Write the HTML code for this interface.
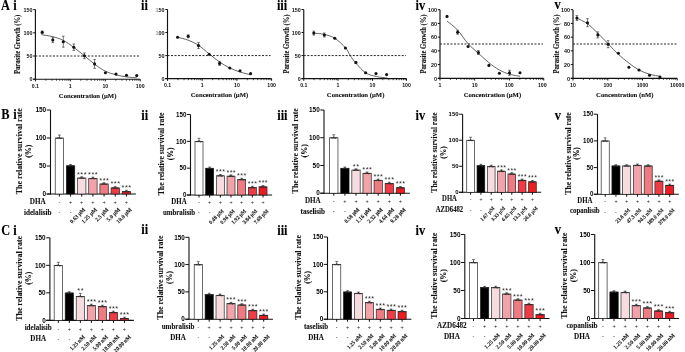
<!DOCTYPE html>
<html><head><meta charset="utf-8"><style>
html,body{margin:0;padding:0;background:#fff;width:685px;height:352px;overflow:hidden;font-family:"Liberation Sans", sans-serif;}
text.s{stroke:#111;stroke-width:0.1px;}
svg{display:block;filter:blur(0.25px);}
</style></head><body>
<svg width="685" height="352" viewBox="0 0 685 352">
<rect width="685" height="352" fill="#ffffff"/>
<line x1="35.40" y1="9.60" x2="35.40" y2="79.70" stroke="#111" stroke-width="1.15" />
<line x1="33.20" y1="79.20" x2="140.20" y2="79.20" stroke="#111" stroke-width="1.15" />
<line x1="33.20" y1="79.20" x2="35.40" y2="79.20" stroke="#111" stroke-width="1.0" />
<text x="32.40" y="81.40" font-family='"Liberation Sans", sans-serif' font-weight="bold" font-size="5.40" text-anchor="end" fill="#111" >0</text>
<line x1="33.20" y1="56.00" x2="35.40" y2="56.00" stroke="#111" stroke-width="1.0" />
<text x="32.40" y="58.20" font-family='"Liberation Sans", sans-serif' font-weight="bold" font-size="5.40" text-anchor="end" fill="#111" >50</text>
<line x1="33.20" y1="32.80" x2="35.40" y2="32.80" stroke="#111" stroke-width="1.0" />
<text x="32.40" y="35.00" font-family='"Liberation Sans", sans-serif' font-weight="bold" font-size="5.40" text-anchor="end" fill="#111" >100</text>
<line x1="33.20" y1="9.60" x2="35.40" y2="9.60" stroke="#111" stroke-width="1.0" />
<text x="32.40" y="11.80" font-family='"Liberation Sans", sans-serif' font-weight="bold" font-size="5.40" text-anchor="end" fill="#111" >150</text>
<line x1="35.40" y1="79.20" x2="35.40" y2="81.40" stroke="#111" stroke-width="1.0" />
<text x="35.40" y="88.00" font-family='"Liberation Sans", sans-serif' font-weight="bold" font-size="5.20" text-anchor="middle" fill="#111" >0.1</text>
<line x1="45.92" y1="79.20" x2="45.92" y2="80.80" stroke="#111" stroke-width="0.75" />
<line x1="52.07" y1="79.20" x2="52.07" y2="80.80" stroke="#111" stroke-width="0.75" />
<line x1="56.43" y1="79.20" x2="56.43" y2="80.80" stroke="#111" stroke-width="0.75" />
<line x1="59.82" y1="79.20" x2="59.82" y2="80.80" stroke="#111" stroke-width="0.75" />
<line x1="62.58" y1="79.20" x2="62.58" y2="80.80" stroke="#111" stroke-width="0.75" />
<line x1="64.92" y1="79.20" x2="64.92" y2="80.80" stroke="#111" stroke-width="0.75" />
<line x1="66.95" y1="79.20" x2="66.95" y2="80.80" stroke="#111" stroke-width="0.75" />
<line x1="68.73" y1="79.20" x2="68.73" y2="80.80" stroke="#111" stroke-width="0.75" />
<line x1="70.30" y1="79.20" x2="70.30" y2="81.40" stroke="#111" stroke-width="1.0" />
<text x="70.30" y="88.00" font-family='"Liberation Sans", sans-serif' font-weight="bold" font-size="5.20" text-anchor="middle" fill="#111" >1</text>
<line x1="80.82" y1="79.20" x2="80.82" y2="80.80" stroke="#111" stroke-width="0.75" />
<line x1="86.97" y1="79.20" x2="86.97" y2="80.80" stroke="#111" stroke-width="0.75" />
<line x1="91.33" y1="79.20" x2="91.33" y2="80.80" stroke="#111" stroke-width="0.75" />
<line x1="94.72" y1="79.20" x2="94.72" y2="80.80" stroke="#111" stroke-width="0.75" />
<line x1="97.48" y1="79.20" x2="97.48" y2="80.80" stroke="#111" stroke-width="0.75" />
<line x1="99.82" y1="79.20" x2="99.82" y2="80.80" stroke="#111" stroke-width="0.75" />
<line x1="101.85" y1="79.20" x2="101.85" y2="80.80" stroke="#111" stroke-width="0.75" />
<line x1="103.63" y1="79.20" x2="103.63" y2="80.80" stroke="#111" stroke-width="0.75" />
<line x1="105.30" y1="79.20" x2="105.30" y2="81.40" stroke="#111" stroke-width="1.0" />
<text x="105.30" y="88.00" font-family='"Liberation Sans", sans-serif' font-weight="bold" font-size="5.20" text-anchor="middle" fill="#111" >10</text>
<line x1="115.82" y1="79.20" x2="115.82" y2="80.80" stroke="#111" stroke-width="0.75" />
<line x1="121.97" y1="79.20" x2="121.97" y2="80.80" stroke="#111" stroke-width="0.75" />
<line x1="126.33" y1="79.20" x2="126.33" y2="80.80" stroke="#111" stroke-width="0.75" />
<line x1="129.72" y1="79.20" x2="129.72" y2="80.80" stroke="#111" stroke-width="0.75" />
<line x1="132.48" y1="79.20" x2="132.48" y2="80.80" stroke="#111" stroke-width="0.75" />
<line x1="134.82" y1="79.20" x2="134.82" y2="80.80" stroke="#111" stroke-width="0.75" />
<line x1="136.85" y1="79.20" x2="136.85" y2="80.80" stroke="#111" stroke-width="0.75" />
<line x1="138.63" y1="79.20" x2="138.63" y2="80.80" stroke="#111" stroke-width="0.75" />
<line x1="140.20" y1="79.20" x2="140.20" y2="81.40" stroke="#111" stroke-width="1.0" />
<text x="140.20" y="88.00" font-family='"Liberation Sans", sans-serif' font-weight="bold" font-size="5.20" text-anchor="middle" fill="#111" >100</text>
<line x1="35.40" y1="56.00" x2="140.50" y2="56.00" stroke="#1a1a1a" stroke-width="0.95" stroke-dasharray="2.0 1.5"/>
<text class="s" transform="translate(87.60,97.70) scale(0.9434,1)" font-family='"Liberation Serif", serif' font-weight="bold" font-size="7.10" text-anchor="middle" fill="#111" >Concentration (µM)</text>
<g transform="translate(20.20,44.40) rotate(-90)">
<text class="s" transform="translate(0.00,0.00) scale(0.9091,1)" font-family='"Liberation Serif", serif' font-weight="bold" font-size="7.26" text-anchor="middle" fill="#111" >Parasite Growth (%)</text>
</g>
<path d="M41.40,34.70 C43.23,35.02 48.75,35.65 52.40,36.60 C56.05,37.55 59.73,38.60 63.30,40.40 C66.87,42.20 70.28,44.83 73.80,47.40 C77.32,49.97 80.93,53.00 84.40,55.80 C87.87,58.60 91.10,61.63 94.60,64.20 C98.10,66.77 101.83,69.43 105.40,71.20 C108.97,72.97 112.48,73.85 116.00,74.80 C119.52,75.75 123.05,76.40 126.50,76.90 C129.95,77.40 135.00,77.65 136.70,77.80" fill="none" stroke="#222" stroke-width="0.7"/>
<line x1="42.20" y1="31.00" x2="42.20" y2="33.60" stroke="#222" stroke-width="0.6" />
<line x1="40.90" y1="31.00" x2="43.50" y2="31.00" stroke="#222" stroke-width="0.6" />
<line x1="40.90" y1="33.60" x2="43.50" y2="33.60" stroke="#222" stroke-width="0.6" />
<circle cx="42.20" cy="32.30" r="1.55" fill="#111"/>
<line x1="52.80" y1="37.20" x2="52.80" y2="42.60" stroke="#222" stroke-width="0.6" />
<line x1="51.50" y1="37.20" x2="54.10" y2="37.20" stroke="#222" stroke-width="0.6" />
<line x1="51.50" y1="42.60" x2="54.10" y2="42.60" stroke="#222" stroke-width="0.6" />
<circle cx="52.80" cy="39.90" r="1.55" fill="#111"/>
<line x1="63.30" y1="36.20" x2="63.30" y2="47.20" stroke="#222" stroke-width="0.6" />
<line x1="62.00" y1="36.20" x2="64.60" y2="36.20" stroke="#222" stroke-width="0.6" />
<line x1="62.00" y1="47.20" x2="64.60" y2="47.20" stroke="#222" stroke-width="0.6" />
<circle cx="63.30" cy="41.70" r="1.55" fill="#111"/>
<line x1="73.80" y1="44.00" x2="73.80" y2="50.40" stroke="#222" stroke-width="0.6" />
<line x1="72.50" y1="44.00" x2="75.10" y2="44.00" stroke="#222" stroke-width="0.6" />
<line x1="72.50" y1="50.40" x2="75.10" y2="50.40" stroke="#222" stroke-width="0.6" />
<circle cx="73.80" cy="47.20" r="1.55" fill="#111"/>
<line x1="84.40" y1="52.90" x2="84.40" y2="58.70" stroke="#222" stroke-width="0.6" />
<line x1="83.10" y1="52.90" x2="85.70" y2="52.90" stroke="#222" stroke-width="0.6" />
<line x1="83.10" y1="58.70" x2="85.70" y2="58.70" stroke="#222" stroke-width="0.6" />
<circle cx="84.40" cy="55.80" r="1.55" fill="#111"/>
<line x1="94.60" y1="59.40" x2="94.60" y2="68.40" stroke="#222" stroke-width="0.6" />
<line x1="93.30" y1="59.40" x2="95.90" y2="59.40" stroke="#222" stroke-width="0.6" />
<line x1="93.30" y1="68.40" x2="95.90" y2="68.40" stroke="#222" stroke-width="0.6" />
<circle cx="94.60" cy="63.90" r="1.55" fill="#111"/>
<circle cx="105.40" cy="72.80" r="1.55" fill="#111"/>
<circle cx="116.00" cy="74.10" r="1.55" fill="#111"/>
<circle cx="126.50" cy="75.20" r="1.55" fill="#111"/>
<circle cx="136.70" cy="75.60" r="1.55" fill="#111"/>
<line x1="167.50" y1="9.50" x2="167.50" y2="79.10" stroke="#111" stroke-width="1.15" />
<line x1="165.30" y1="78.60" x2="271.60" y2="78.60" stroke="#111" stroke-width="1.15" />
<line x1="165.30" y1="78.60" x2="167.50" y2="78.60" stroke="#111" stroke-width="1.0" />
<text x="164.50" y="80.80" font-family='"Liberation Sans", sans-serif' font-weight="bold" font-size="5.40" text-anchor="end" fill="#111" >0</text>
<line x1="165.30" y1="55.57" x2="167.50" y2="55.57" stroke="#111" stroke-width="1.0" />
<text x="164.50" y="57.77" font-family='"Liberation Sans", sans-serif' font-weight="bold" font-size="5.40" text-anchor="end" fill="#111" >50</text>
<line x1="165.30" y1="32.53" x2="167.50" y2="32.53" stroke="#111" stroke-width="1.0" />
<text x="164.50" y="34.73" font-family='"Liberation Sans", sans-serif' font-weight="bold" font-size="5.40" text-anchor="end" fill="#111" >100</text>
<line x1="165.30" y1="9.50" x2="167.50" y2="9.50" stroke="#111" stroke-width="1.0" />
<text x="164.50" y="11.70" font-family='"Liberation Sans", sans-serif' font-weight="bold" font-size="5.40" text-anchor="end" fill="#111" >150</text>
<line x1="167.50" y1="78.60" x2="167.50" y2="80.80" stroke="#111" stroke-width="1.0" />
<text x="167.50" y="87.40" font-family='"Liberation Sans", sans-serif' font-weight="bold" font-size="5.20" text-anchor="middle" fill="#111" >0.1</text>
<line x1="177.95" y1="78.60" x2="177.95" y2="80.20" stroke="#111" stroke-width="0.75" />
<line x1="184.06" y1="78.60" x2="184.06" y2="80.20" stroke="#111" stroke-width="0.75" />
<line x1="188.39" y1="78.60" x2="188.39" y2="80.20" stroke="#111" stroke-width="0.75" />
<line x1="191.75" y1="78.60" x2="191.75" y2="80.20" stroke="#111" stroke-width="0.75" />
<line x1="194.50" y1="78.60" x2="194.50" y2="80.20" stroke="#111" stroke-width="0.75" />
<line x1="196.82" y1="78.60" x2="196.82" y2="80.20" stroke="#111" stroke-width="0.75" />
<line x1="198.84" y1="78.60" x2="198.84" y2="80.20" stroke="#111" stroke-width="0.75" />
<line x1="200.61" y1="78.60" x2="200.61" y2="80.20" stroke="#111" stroke-width="0.75" />
<line x1="202.20" y1="78.60" x2="202.20" y2="80.80" stroke="#111" stroke-width="1.0" />
<text x="202.20" y="87.40" font-family='"Liberation Sans", sans-serif' font-weight="bold" font-size="5.20" text-anchor="middle" fill="#111" >1</text>
<line x1="212.65" y1="78.60" x2="212.65" y2="80.20" stroke="#111" stroke-width="0.75" />
<line x1="218.76" y1="78.60" x2="218.76" y2="80.20" stroke="#111" stroke-width="0.75" />
<line x1="223.09" y1="78.60" x2="223.09" y2="80.20" stroke="#111" stroke-width="0.75" />
<line x1="226.45" y1="78.60" x2="226.45" y2="80.20" stroke="#111" stroke-width="0.75" />
<line x1="229.20" y1="78.60" x2="229.20" y2="80.20" stroke="#111" stroke-width="0.75" />
<line x1="231.52" y1="78.60" x2="231.52" y2="80.20" stroke="#111" stroke-width="0.75" />
<line x1="233.54" y1="78.60" x2="233.54" y2="80.20" stroke="#111" stroke-width="0.75" />
<line x1="235.31" y1="78.60" x2="235.31" y2="80.20" stroke="#111" stroke-width="0.75" />
<line x1="236.90" y1="78.60" x2="236.90" y2="80.80" stroke="#111" stroke-width="1.0" />
<text x="236.90" y="87.40" font-family='"Liberation Sans", sans-serif' font-weight="bold" font-size="5.20" text-anchor="middle" fill="#111" >10</text>
<line x1="247.35" y1="78.60" x2="247.35" y2="80.20" stroke="#111" stroke-width="0.75" />
<line x1="253.46" y1="78.60" x2="253.46" y2="80.20" stroke="#111" stroke-width="0.75" />
<line x1="257.79" y1="78.60" x2="257.79" y2="80.20" stroke="#111" stroke-width="0.75" />
<line x1="261.15" y1="78.60" x2="261.15" y2="80.20" stroke="#111" stroke-width="0.75" />
<line x1="263.90" y1="78.60" x2="263.90" y2="80.20" stroke="#111" stroke-width="0.75" />
<line x1="266.22" y1="78.60" x2="266.22" y2="80.20" stroke="#111" stroke-width="0.75" />
<line x1="268.24" y1="78.60" x2="268.24" y2="80.20" stroke="#111" stroke-width="0.75" />
<line x1="270.01" y1="78.60" x2="270.01" y2="80.20" stroke="#111" stroke-width="0.75" />
<line x1="271.60" y1="78.60" x2="271.60" y2="80.80" stroke="#111" stroke-width="1.0" />
<text x="271.60" y="87.40" font-family='"Liberation Sans", sans-serif' font-weight="bold" font-size="5.20" text-anchor="middle" fill="#111" >100</text>
<line x1="167.50" y1="55.57" x2="270.50" y2="55.57" stroke="#1a1a1a" stroke-width="0.95" stroke-dasharray="2.0 1.5"/>
<text class="s" transform="translate(219.50,97.10) scale(0.9434,1)" font-family='"Liberation Serif", serif' font-weight="bold" font-size="7.10" text-anchor="middle" fill="#111" >Concentration (µM)</text>
<path d="M177.60,37.20 C179.37,37.70 184.72,38.85 188.20,40.20 C191.68,41.55 195.02,43.03 198.50,45.30 C201.98,47.57 205.58,51.02 209.10,53.80 C212.62,56.58 216.15,59.63 219.60,62.00 C223.05,64.37 226.40,66.33 229.80,68.00 C233.20,69.67 236.53,70.87 240.00,72.00 C243.47,73.13 248.83,74.33 250.60,74.80" fill="none" stroke="#222" stroke-width="0.7"/>
<circle cx="177.60" cy="37.20" r="1.55" fill="#111"/>
<line x1="188.20" y1="34.80" x2="188.20" y2="37.80" stroke="#222" stroke-width="0.6" />
<line x1="186.90" y1="34.80" x2="189.50" y2="34.80" stroke="#222" stroke-width="0.6" />
<line x1="186.90" y1="37.80" x2="189.50" y2="37.80" stroke="#222" stroke-width="0.6" />
<circle cx="188.20" cy="36.30" r="1.55" fill="#111"/>
<line x1="198.50" y1="42.60" x2="198.50" y2="48.60" stroke="#222" stroke-width="0.6" />
<line x1="197.20" y1="42.60" x2="199.80" y2="42.60" stroke="#222" stroke-width="0.6" />
<line x1="197.20" y1="48.60" x2="199.80" y2="48.60" stroke="#222" stroke-width="0.6" />
<circle cx="198.50" cy="45.60" r="1.55" fill="#111"/>
<circle cx="209.10" cy="54.20" r="1.55" fill="#111"/>
<line x1="219.60" y1="61.40" x2="219.60" y2="65.40" stroke="#222" stroke-width="0.6" />
<line x1="218.30" y1="61.40" x2="220.90" y2="61.40" stroke="#222" stroke-width="0.6" />
<line x1="218.30" y1="65.40" x2="220.90" y2="65.40" stroke="#222" stroke-width="0.6" />
<circle cx="219.60" cy="63.40" r="1.55" fill="#111"/>
<circle cx="229.80" cy="68.00" r="1.55" fill="#111"/>
<circle cx="240.00" cy="70.70" r="1.55" fill="#111"/>
<circle cx="250.60" cy="73.60" r="1.55" fill="#111"/>
<line x1="303.75" y1="9.50" x2="303.75" y2="79.10" stroke="#111" stroke-width="1.15" />
<line x1="301.55" y1="78.60" x2="406.50" y2="78.60" stroke="#111" stroke-width="1.15" />
<line x1="301.55" y1="78.60" x2="303.75" y2="78.60" stroke="#111" stroke-width="1.0" />
<text x="300.75" y="80.80" font-family='"Liberation Sans", sans-serif' font-weight="bold" font-size="5.40" text-anchor="end" fill="#111" >0</text>
<line x1="301.55" y1="55.57" x2="303.75" y2="55.57" stroke="#111" stroke-width="1.0" />
<text x="300.75" y="57.77" font-family='"Liberation Sans", sans-serif' font-weight="bold" font-size="5.40" text-anchor="end" fill="#111" >50</text>
<line x1="301.55" y1="32.53" x2="303.75" y2="32.53" stroke="#111" stroke-width="1.0" />
<text x="300.75" y="34.73" font-family='"Liberation Sans", sans-serif' font-weight="bold" font-size="5.40" text-anchor="end" fill="#111" >100</text>
<line x1="301.55" y1="9.50" x2="303.75" y2="9.50" stroke="#111" stroke-width="1.0" />
<text x="300.75" y="11.70" font-family='"Liberation Sans", sans-serif' font-weight="bold" font-size="5.40" text-anchor="end" fill="#111" >150</text>
<line x1="303.75" y1="78.60" x2="303.75" y2="80.80" stroke="#111" stroke-width="1.0" />
<text x="303.75" y="87.40" font-family='"Liberation Sans", sans-serif' font-weight="bold" font-size="5.20" text-anchor="middle" fill="#111" >0.1</text>
<line x1="314.06" y1="78.60" x2="314.06" y2="80.20" stroke="#111" stroke-width="0.75" />
<line x1="320.09" y1="78.60" x2="320.09" y2="80.20" stroke="#111" stroke-width="0.75" />
<line x1="324.37" y1="78.60" x2="324.37" y2="80.20" stroke="#111" stroke-width="0.75" />
<line x1="327.69" y1="78.60" x2="327.69" y2="80.20" stroke="#111" stroke-width="0.75" />
<line x1="330.40" y1="78.60" x2="330.40" y2="80.20" stroke="#111" stroke-width="0.75" />
<line x1="332.69" y1="78.60" x2="332.69" y2="80.20" stroke="#111" stroke-width="0.75" />
<line x1="334.68" y1="78.60" x2="334.68" y2="80.20" stroke="#111" stroke-width="0.75" />
<line x1="336.43" y1="78.60" x2="336.43" y2="80.20" stroke="#111" stroke-width="0.75" />
<line x1="338.00" y1="78.60" x2="338.00" y2="80.80" stroke="#111" stroke-width="1.0" />
<text x="338.00" y="87.40" font-family='"Liberation Sans", sans-serif' font-weight="bold" font-size="5.20" text-anchor="middle" fill="#111" >1</text>
<line x1="348.31" y1="78.60" x2="348.31" y2="80.20" stroke="#111" stroke-width="0.75" />
<line x1="354.34" y1="78.60" x2="354.34" y2="80.20" stroke="#111" stroke-width="0.75" />
<line x1="358.62" y1="78.60" x2="358.62" y2="80.20" stroke="#111" stroke-width="0.75" />
<line x1="361.94" y1="78.60" x2="361.94" y2="80.20" stroke="#111" stroke-width="0.75" />
<line x1="364.65" y1="78.60" x2="364.65" y2="80.20" stroke="#111" stroke-width="0.75" />
<line x1="366.94" y1="78.60" x2="366.94" y2="80.20" stroke="#111" stroke-width="0.75" />
<line x1="368.93" y1="78.60" x2="368.93" y2="80.20" stroke="#111" stroke-width="0.75" />
<line x1="370.68" y1="78.60" x2="370.68" y2="80.20" stroke="#111" stroke-width="0.75" />
<line x1="372.50" y1="78.60" x2="372.50" y2="80.80" stroke="#111" stroke-width="1.0" />
<text x="372.50" y="87.40" font-family='"Liberation Sans", sans-serif' font-weight="bold" font-size="5.20" text-anchor="middle" fill="#111" >10</text>
<line x1="382.81" y1="78.60" x2="382.81" y2="80.20" stroke="#111" stroke-width="0.75" />
<line x1="388.84" y1="78.60" x2="388.84" y2="80.20" stroke="#111" stroke-width="0.75" />
<line x1="393.12" y1="78.60" x2="393.12" y2="80.20" stroke="#111" stroke-width="0.75" />
<line x1="396.44" y1="78.60" x2="396.44" y2="80.20" stroke="#111" stroke-width="0.75" />
<line x1="399.15" y1="78.60" x2="399.15" y2="80.20" stroke="#111" stroke-width="0.75" />
<line x1="401.44" y1="78.60" x2="401.44" y2="80.20" stroke="#111" stroke-width="0.75" />
<line x1="403.43" y1="78.60" x2="403.43" y2="80.20" stroke="#111" stroke-width="0.75" />
<line x1="405.18" y1="78.60" x2="405.18" y2="80.20" stroke="#111" stroke-width="0.75" />
<line x1="406.50" y1="78.60" x2="406.50" y2="80.80" stroke="#111" stroke-width="1.0" />
<text x="406.50" y="87.40" font-family='"Liberation Sans", sans-serif' font-weight="bold" font-size="5.20" text-anchor="middle" fill="#111" >100</text>
<line x1="303.75" y1="55.57" x2="406.00" y2="55.57" stroke="#1a1a1a" stroke-width="0.95" stroke-dasharray="2.0 1.5"/>
<text class="s" transform="translate(355.60,97.10) scale(0.9434,1)" font-family='"Liberation Serif", serif' font-weight="bold" font-size="7.10" text-anchor="middle" fill="#111" >Concentration (µM)</text>
<g transform="translate(289.00,44.00) rotate(-90)">
<text class="s" transform="translate(0.00,0.00) scale(0.9091,1)" font-family='"Liberation Serif", serif' font-weight="bold" font-size="7.26" text-anchor="middle" fill="#111" >Parasite Growth (%)</text>
</g>
<path d="M313.80,33.10 C315.55,33.32 320.80,33.53 324.30,34.40 C327.80,35.27 331.28,36.08 334.80,38.30 C338.32,40.52 342.83,44.83 345.40,47.70 C347.97,50.57 348.45,52.93 350.20,55.50 C351.95,58.07 353.33,60.22 355.90,63.10 C358.47,65.98 362.22,70.57 365.60,72.80 C368.98,75.03 372.55,75.63 376.20,76.50 C379.85,77.37 385.62,77.75 387.50,78.00" fill="none" stroke="#222" stroke-width="0.7"/>
<line x1="313.80" y1="31.10" x2="313.80" y2="35.10" stroke="#222" stroke-width="0.6" />
<line x1="312.50" y1="31.10" x2="315.10" y2="31.10" stroke="#222" stroke-width="0.6" />
<line x1="312.50" y1="35.10" x2="315.10" y2="35.10" stroke="#222" stroke-width="0.6" />
<circle cx="313.80" cy="33.10" r="1.55" fill="#111"/>
<line x1="324.30" y1="33.00" x2="324.30" y2="37.00" stroke="#222" stroke-width="0.6" />
<line x1="323.00" y1="33.00" x2="325.60" y2="33.00" stroke="#222" stroke-width="0.6" />
<line x1="323.00" y1="37.00" x2="325.60" y2="37.00" stroke="#222" stroke-width="0.6" />
<circle cx="324.30" cy="35.00" r="1.55" fill="#111"/>
<circle cx="334.80" cy="38.30" r="1.55" fill="#111"/>
<circle cx="345.40" cy="48.00" r="1.55" fill="#111"/>
<line x1="355.90" y1="61.50" x2="355.90" y2="63.50" stroke="#222" stroke-width="0.6" />
<line x1="354.60" y1="61.50" x2="357.20" y2="61.50" stroke="#222" stroke-width="0.6" />
<line x1="354.60" y1="63.50" x2="357.20" y2="63.50" stroke="#222" stroke-width="0.6" />
<circle cx="355.90" cy="62.50" r="1.55" fill="#111"/>
<circle cx="365.60" cy="72.80" r="1.55" fill="#111"/>
<circle cx="376.00" cy="73.60" r="1.55" fill="#111"/>
<circle cx="386.60" cy="74.60" r="1.55" fill="#111"/>
<line x1="440.00" y1="9.70" x2="440.00" y2="78.80" stroke="#111" stroke-width="1.15" />
<line x1="437.80" y1="78.30" x2="543.75" y2="78.30" stroke="#111" stroke-width="1.15" />
<line x1="437.80" y1="78.30" x2="440.00" y2="78.30" stroke="#111" stroke-width="1.0" />
<text x="437.00" y="80.50" font-family='"Liberation Sans", sans-serif' font-weight="bold" font-size="5.40" text-anchor="end" fill="#111" >0</text>
<line x1="437.80" y1="64.58" x2="440.00" y2="64.58" stroke="#111" stroke-width="1.0" />
<text x="437.00" y="66.78" font-family='"Liberation Sans", sans-serif' font-weight="bold" font-size="5.40" text-anchor="end" fill="#111" >20</text>
<line x1="437.80" y1="50.86" x2="440.00" y2="50.86" stroke="#111" stroke-width="1.0" />
<text x="437.00" y="53.06" font-family='"Liberation Sans", sans-serif' font-weight="bold" font-size="5.40" text-anchor="end" fill="#111" >40</text>
<line x1="437.80" y1="37.14" x2="440.00" y2="37.14" stroke="#111" stroke-width="1.0" />
<text x="437.00" y="39.34" font-family='"Liberation Sans", sans-serif' font-weight="bold" font-size="5.40" text-anchor="end" fill="#111" >60</text>
<line x1="437.80" y1="23.42" x2="440.00" y2="23.42" stroke="#111" stroke-width="1.0" />
<text x="437.00" y="25.62" font-family='"Liberation Sans", sans-serif' font-weight="bold" font-size="5.40" text-anchor="end" fill="#111" >80</text>
<line x1="437.80" y1="9.70" x2="440.00" y2="9.70" stroke="#111" stroke-width="1.0" />
<text x="437.00" y="11.90" font-family='"Liberation Sans", sans-serif' font-weight="bold" font-size="5.40" text-anchor="end" fill="#111" >100</text>
<line x1="440.00" y1="78.30" x2="440.00" y2="80.50" stroke="#111" stroke-width="1.0" />
<text x="440.00" y="87.10" font-family='"Liberation Sans", sans-serif' font-weight="bold" font-size="5.20" text-anchor="middle" fill="#111" >1</text>
<line x1="450.41" y1="78.30" x2="450.41" y2="79.90" stroke="#111" stroke-width="0.75" />
<line x1="456.50" y1="78.30" x2="456.50" y2="79.90" stroke="#111" stroke-width="0.75" />
<line x1="460.82" y1="78.30" x2="460.82" y2="79.90" stroke="#111" stroke-width="0.75" />
<line x1="464.17" y1="78.30" x2="464.17" y2="79.90" stroke="#111" stroke-width="0.75" />
<line x1="466.91" y1="78.30" x2="466.91" y2="79.90" stroke="#111" stroke-width="0.75" />
<line x1="469.23" y1="78.30" x2="469.23" y2="79.90" stroke="#111" stroke-width="0.75" />
<line x1="471.23" y1="78.30" x2="471.23" y2="79.90" stroke="#111" stroke-width="0.75" />
<line x1="473.00" y1="78.30" x2="473.00" y2="79.90" stroke="#111" stroke-width="0.75" />
<line x1="474.70" y1="78.30" x2="474.70" y2="80.50" stroke="#111" stroke-width="1.0" />
<text x="474.70" y="87.10" font-family='"Liberation Sans", sans-serif' font-weight="bold" font-size="5.20" text-anchor="middle" fill="#111" >10</text>
<line x1="485.11" y1="78.30" x2="485.11" y2="79.90" stroke="#111" stroke-width="0.75" />
<line x1="491.20" y1="78.30" x2="491.20" y2="79.90" stroke="#111" stroke-width="0.75" />
<line x1="495.52" y1="78.30" x2="495.52" y2="79.90" stroke="#111" stroke-width="0.75" />
<line x1="498.87" y1="78.30" x2="498.87" y2="79.90" stroke="#111" stroke-width="0.75" />
<line x1="501.61" y1="78.30" x2="501.61" y2="79.90" stroke="#111" stroke-width="0.75" />
<line x1="503.93" y1="78.30" x2="503.93" y2="79.90" stroke="#111" stroke-width="0.75" />
<line x1="505.93" y1="78.30" x2="505.93" y2="79.90" stroke="#111" stroke-width="0.75" />
<line x1="507.70" y1="78.30" x2="507.70" y2="79.90" stroke="#111" stroke-width="0.75" />
<line x1="509.40" y1="78.30" x2="509.40" y2="80.50" stroke="#111" stroke-width="1.0" />
<text x="509.40" y="87.10" font-family='"Liberation Sans", sans-serif' font-weight="bold" font-size="5.20" text-anchor="middle" fill="#111" >100</text>
<line x1="519.81" y1="78.30" x2="519.81" y2="79.90" stroke="#111" stroke-width="0.75" />
<line x1="525.90" y1="78.30" x2="525.90" y2="79.90" stroke="#111" stroke-width="0.75" />
<line x1="530.22" y1="78.30" x2="530.22" y2="79.90" stroke="#111" stroke-width="0.75" />
<line x1="533.57" y1="78.30" x2="533.57" y2="79.90" stroke="#111" stroke-width="0.75" />
<line x1="536.31" y1="78.30" x2="536.31" y2="79.90" stroke="#111" stroke-width="0.75" />
<line x1="538.63" y1="78.30" x2="538.63" y2="79.90" stroke="#111" stroke-width="0.75" />
<line x1="540.63" y1="78.30" x2="540.63" y2="79.90" stroke="#111" stroke-width="0.75" />
<line x1="542.40" y1="78.30" x2="542.40" y2="79.90" stroke="#111" stroke-width="0.75" />
<line x1="543.75" y1="78.30" x2="543.75" y2="80.50" stroke="#111" stroke-width="1.0" />
<text x="543.75" y="87.10" font-family='"Liberation Sans", sans-serif' font-weight="bold" font-size="5.20" text-anchor="middle" fill="#111" >1000</text>
<rect x="547" y="81.3" width="7" height="7" fill="#fff"/>
<line x1="440.00" y1="44.00" x2="543.00" y2="44.00" stroke="#1a1a1a" stroke-width="0.95" stroke-dasharray="2.0 1.5"/>
<text class="s" transform="translate(492.40,96.80) scale(0.9434,1)" font-family='"Liberation Serif", serif' font-weight="bold" font-size="7.10" text-anchor="middle" fill="#111" >Concentration (µM)</text>
<g transform="translate(425.80,44.00) rotate(-90)">
<text class="s" transform="translate(0.00,0.00) scale(0.9091,1)" font-family='"Liberation Serif", serif' font-weight="bold" font-size="7.26" text-anchor="middle" fill="#111" >Parasite Growth (%)</text>
</g>
<path d="M447.00,21.00 C448.77,22.52 454.08,26.30 457.60,30.10 C461.12,33.90 464.63,39.95 468.10,43.80 C471.57,47.65 474.93,50.05 478.40,53.20 C481.87,56.35 485.40,59.90 488.90,62.70 C492.40,65.50 495.97,68.08 499.40,70.00 C502.83,71.92 506.07,73.15 509.50,74.20 C512.93,75.25 518.25,75.95 520.00,76.30" fill="none" stroke="#222" stroke-width="0.7"/>
<circle cx="447.00" cy="16.40" r="1.55" fill="#111"/>
<line x1="457.60" y1="30.20" x2="457.60" y2="34.20" stroke="#222" stroke-width="0.6" />
<line x1="456.30" y1="30.20" x2="458.90" y2="30.20" stroke="#222" stroke-width="0.6" />
<line x1="456.30" y1="34.20" x2="458.90" y2="34.20" stroke="#222" stroke-width="0.6" />
<circle cx="457.60" cy="32.20" r="1.55" fill="#111"/>
<circle cx="468.10" cy="46.50" r="1.55" fill="#111"/>
<line x1="478.40" y1="50.60" x2="478.40" y2="54.60" stroke="#222" stroke-width="0.6" />
<line x1="477.10" y1="50.60" x2="479.70" y2="50.60" stroke="#222" stroke-width="0.6" />
<line x1="477.10" y1="54.60" x2="479.70" y2="54.60" stroke="#222" stroke-width="0.6" />
<circle cx="478.40" cy="52.60" r="1.55" fill="#111"/>
<circle cx="488.90" cy="65.40" r="1.55" fill="#111"/>
<circle cx="499.40" cy="73.20" r="1.55" fill="#111"/>
<line x1="509.50" y1="70.30" x2="509.50" y2="75.30" stroke="#222" stroke-width="0.6" />
<line x1="508.20" y1="70.30" x2="510.80" y2="70.30" stroke="#222" stroke-width="0.6" />
<line x1="508.20" y1="75.30" x2="510.80" y2="75.30" stroke="#222" stroke-width="0.6" />
<circle cx="509.50" cy="72.80" r="1.55" fill="#111"/>
<circle cx="520.00" cy="72.80" r="1.55" fill="#111"/>
<line x1="573.00" y1="9.70" x2="573.00" y2="78.80" stroke="#111" stroke-width="1.15" />
<line x1="570.80" y1="78.30" x2="677.20" y2="78.30" stroke="#111" stroke-width="1.15" />
<line x1="570.80" y1="78.30" x2="573.00" y2="78.30" stroke="#111" stroke-width="1.0" />
<text x="570.00" y="80.50" font-family='"Liberation Sans", sans-serif' font-weight="bold" font-size="5.40" text-anchor="end" fill="#111" >0</text>
<line x1="570.80" y1="64.58" x2="573.00" y2="64.58" stroke="#111" stroke-width="1.0" />
<text x="570.00" y="66.78" font-family='"Liberation Sans", sans-serif' font-weight="bold" font-size="5.40" text-anchor="end" fill="#111" >20</text>
<line x1="570.80" y1="50.86" x2="573.00" y2="50.86" stroke="#111" stroke-width="1.0" />
<text x="570.00" y="53.06" font-family='"Liberation Sans", sans-serif' font-weight="bold" font-size="5.40" text-anchor="end" fill="#111" >40</text>
<line x1="570.80" y1="37.14" x2="573.00" y2="37.14" stroke="#111" stroke-width="1.0" />
<text x="570.00" y="39.34" font-family='"Liberation Sans", sans-serif' font-weight="bold" font-size="5.40" text-anchor="end" fill="#111" >60</text>
<line x1="570.80" y1="23.42" x2="573.00" y2="23.42" stroke="#111" stroke-width="1.0" />
<text x="570.00" y="25.62" font-family='"Liberation Sans", sans-serif' font-weight="bold" font-size="5.40" text-anchor="end" fill="#111" >80</text>
<line x1="570.80" y1="9.70" x2="573.00" y2="9.70" stroke="#111" stroke-width="1.0" />
<text x="570.00" y="11.90" font-family='"Liberation Sans", sans-serif' font-weight="bold" font-size="5.40" text-anchor="end" fill="#111" >100</text>
<line x1="573.00" y1="78.30" x2="573.00" y2="80.50" stroke="#111" stroke-width="1.0" />
<text x="573.00" y="87.10" font-family='"Liberation Sans", sans-serif' font-weight="bold" font-size="5.20" text-anchor="middle" fill="#111" >10</text>
<line x1="583.46" y1="78.30" x2="583.46" y2="79.90" stroke="#111" stroke-width="0.75" />
<line x1="589.57" y1="78.30" x2="589.57" y2="79.90" stroke="#111" stroke-width="0.75" />
<line x1="593.91" y1="78.30" x2="593.91" y2="79.90" stroke="#111" stroke-width="0.75" />
<line x1="597.28" y1="78.30" x2="597.28" y2="79.90" stroke="#111" stroke-width="0.75" />
<line x1="600.03" y1="78.30" x2="600.03" y2="79.90" stroke="#111" stroke-width="0.75" />
<line x1="602.35" y1="78.30" x2="602.35" y2="79.90" stroke="#111" stroke-width="0.75" />
<line x1="604.37" y1="78.30" x2="604.37" y2="79.90" stroke="#111" stroke-width="0.75" />
<line x1="606.14" y1="78.30" x2="606.14" y2="79.90" stroke="#111" stroke-width="0.75" />
<line x1="607.80" y1="78.30" x2="607.80" y2="80.50" stroke="#111" stroke-width="1.0" />
<text x="607.80" y="87.10" font-family='"Liberation Sans", sans-serif' font-weight="bold" font-size="5.20" text-anchor="middle" fill="#111" >100</text>
<line x1="618.26" y1="78.30" x2="618.26" y2="79.90" stroke="#111" stroke-width="0.75" />
<line x1="624.37" y1="78.30" x2="624.37" y2="79.90" stroke="#111" stroke-width="0.75" />
<line x1="628.71" y1="78.30" x2="628.71" y2="79.90" stroke="#111" stroke-width="0.75" />
<line x1="632.08" y1="78.30" x2="632.08" y2="79.90" stroke="#111" stroke-width="0.75" />
<line x1="634.83" y1="78.30" x2="634.83" y2="79.90" stroke="#111" stroke-width="0.75" />
<line x1="637.15" y1="78.30" x2="637.15" y2="79.90" stroke="#111" stroke-width="0.75" />
<line x1="639.17" y1="78.30" x2="639.17" y2="79.90" stroke="#111" stroke-width="0.75" />
<line x1="640.94" y1="78.30" x2="640.94" y2="79.90" stroke="#111" stroke-width="0.75" />
<line x1="642.50" y1="78.30" x2="642.50" y2="80.50" stroke="#111" stroke-width="1.0" />
<text x="642.50" y="87.10" font-family='"Liberation Sans", sans-serif' font-weight="bold" font-size="5.20" text-anchor="middle" fill="#111" >1000</text>
<line x1="652.96" y1="78.30" x2="652.96" y2="79.90" stroke="#111" stroke-width="0.75" />
<line x1="659.07" y1="78.30" x2="659.07" y2="79.90" stroke="#111" stroke-width="0.75" />
<line x1="663.41" y1="78.30" x2="663.41" y2="79.90" stroke="#111" stroke-width="0.75" />
<line x1="666.78" y1="78.30" x2="666.78" y2="79.90" stroke="#111" stroke-width="0.75" />
<line x1="669.53" y1="78.30" x2="669.53" y2="79.90" stroke="#111" stroke-width="0.75" />
<line x1="671.85" y1="78.30" x2="671.85" y2="79.90" stroke="#111" stroke-width="0.75" />
<line x1="673.87" y1="78.30" x2="673.87" y2="79.90" stroke="#111" stroke-width="0.75" />
<line x1="675.64" y1="78.30" x2="675.64" y2="79.90" stroke="#111" stroke-width="0.75" />
<line x1="677.20" y1="78.30" x2="677.20" y2="80.50" stroke="#111" stroke-width="1.0" />
<text x="677.20" y="87.10" font-family='"Liberation Sans", sans-serif' font-weight="bold" font-size="5.20" text-anchor="middle" fill="#111" >10000</text>
<line x1="573.00" y1="44.00" x2="677.00" y2="44.00" stroke="#1a1a1a" stroke-width="0.95" stroke-dasharray="2.0 1.5"/>
<text class="s" transform="translate(624.80,96.80) scale(0.9434,1)" font-family='"Liberation Serif", serif' font-weight="bold" font-size="7.10" text-anchor="middle" fill="#111" >Concentration (nM)</text>
<g transform="translate(558.60,44.00) rotate(-90)">
<text class="s" transform="translate(0.00,0.00) scale(0.9091,1)" font-family='"Liberation Serif", serif' font-weight="bold" font-size="7.26" text-anchor="middle" fill="#111" >Parasite Growth (%)</text>
</g>
<path d="M576.90,18.10 C578.67,19.05 584.02,21.28 587.50,23.80 C590.98,26.32 594.37,29.87 597.80,33.20 C601.23,36.53 604.67,40.28 608.10,43.80 C611.53,47.32 614.93,51.08 618.40,54.30 C621.87,57.52 625.47,60.48 628.90,63.10 C632.33,65.72 635.57,68.15 639.00,70.00 C642.43,71.85 646.00,73.15 649.50,74.20 C653.00,75.25 658.25,75.95 660.00,76.30" fill="none" stroke="#222" stroke-width="0.7"/>
<line x1="576.90" y1="15.60" x2="576.90" y2="20.60" stroke="#222" stroke-width="0.6" />
<line x1="575.60" y1="15.60" x2="578.20" y2="15.60" stroke="#222" stroke-width="0.6" />
<line x1="575.60" y1="20.60" x2="578.20" y2="20.60" stroke="#222" stroke-width="0.6" />
<circle cx="576.90" cy="18.10" r="1.55" fill="#111"/>
<line x1="587.50" y1="18.70" x2="587.50" y2="26.70" stroke="#222" stroke-width="0.6" />
<line x1="586.20" y1="18.70" x2="588.80" y2="18.70" stroke="#222" stroke-width="0.6" />
<line x1="586.20" y1="26.70" x2="588.80" y2="26.70" stroke="#222" stroke-width="0.6" />
<circle cx="587.50" cy="22.70" r="1.55" fill="#111"/>
<line x1="597.80" y1="31.90" x2="597.80" y2="37.90" stroke="#222" stroke-width="0.6" />
<line x1="596.50" y1="31.90" x2="599.10" y2="31.90" stroke="#222" stroke-width="0.6" />
<line x1="596.50" y1="37.90" x2="599.10" y2="37.90" stroke="#222" stroke-width="0.6" />
<circle cx="597.80" cy="34.90" r="1.55" fill="#111"/>
<line x1="608.10" y1="40.70" x2="608.10" y2="47.70" stroke="#222" stroke-width="0.6" />
<line x1="606.80" y1="40.70" x2="609.40" y2="40.70" stroke="#222" stroke-width="0.6" />
<line x1="606.80" y1="47.70" x2="609.40" y2="47.70" stroke="#222" stroke-width="0.6" />
<circle cx="608.10" cy="44.20" r="1.55" fill="#111"/>
<circle cx="618.40" cy="53.20" r="1.55" fill="#111"/>
<circle cx="628.90" cy="67.30" r="1.55" fill="#111"/>
<circle cx="639.00" cy="70.00" r="1.55" fill="#111"/>
<circle cx="649.50" cy="75.30" r="1.55" fill="#111"/>
<circle cx="660.00" cy="77.00" r="1.55" fill="#111"/>
<rect x="155.3" y="6.5" width="2.6" height="6.5" fill="#fff" fill-opacity="0.55"/>
<rect x="155.3" y="29.6" width="2.6" height="6.5" fill="#fff" fill-opacity="0.55"/>
<g transform="translate(21.90,151.20) rotate(-90)">
<text class="s" transform="translate(0.00,0.00) scale(0.9259,1)" font-family='"Liberation Serif", serif' font-weight="bold" font-size="8.64" text-anchor="middle" fill="#111" >The relative survival rate</text>
<text class="s" transform="translate(0.00,9.30) scale(0.9259,1)" font-family='"Liberation Serif", serif' font-weight="bold" font-size="8.64" text-anchor="middle" fill="#111" >(%)</text>
</g>
<line x1="50.50" y1="110.00" x2="50.50" y2="194.55" stroke="#111" stroke-width="1.1" />
<line x1="46.70" y1="194.00" x2="135.91" y2="194.00" stroke="#111" stroke-width="1.1" />
<line x1="46.70" y1="194.00" x2="50.50" y2="194.00" stroke="#111" stroke-width="1.0" />
<text x="46.20" y="196.30" font-family='"Liberation Sans", sans-serif' font-weight="bold" font-size="6.70" text-anchor="end" fill="#000" textLength="3.60" lengthAdjust="spacingAndGlyphs">0</text>
<line x1="46.70" y1="166.00" x2="50.50" y2="166.00" stroke="#111" stroke-width="1.0" />
<text x="46.20" y="168.30" font-family='"Liberation Sans", sans-serif' font-weight="bold" font-size="6.70" text-anchor="end" fill="#000" textLength="7.20" lengthAdjust="spacingAndGlyphs">50</text>
<line x1="46.70" y1="138.00" x2="50.50" y2="138.00" stroke="#111" stroke-width="1.0" />
<text x="46.20" y="140.30" font-family='"Liberation Sans", sans-serif' font-weight="bold" font-size="6.70" text-anchor="end" fill="#000" textLength="10.80" lengthAdjust="spacingAndGlyphs">100</text>
<line x1="46.70" y1="110.00" x2="50.50" y2="110.00" stroke="#111" stroke-width="1.0" />
<text x="46.20" y="112.30" font-family='"Liberation Sans", sans-serif' font-weight="bold" font-size="6.70" text-anchor="end" fill="#000" textLength="10.80" lengthAdjust="spacingAndGlyphs">150</text>
<rect x="55.21" y="138.00" width="8.38" height="56.00" fill="#ffffff" stroke="#1a1a1a" stroke-width="0.65"/>
<line x1="59.40" y1="135.00" x2="59.40" y2="138.00" stroke="#222" stroke-width="0.6" />
<line x1="58.00" y1="135.00" x2="60.80" y2="135.00" stroke="#222" stroke-width="0.6" />
<line x1="56.01" y1="138.30" x2="62.79" y2="138.30" stroke="#222" stroke-width="0.8" />
<circle cx="57.90" cy="138.10" r="0.65" fill="#333"/>
<circle cx="59.40" cy="137.40" r="0.65" fill="#333"/>
<circle cx="60.90" cy="138.40" r="0.65" fill="#333"/>
<line x1="59.40" y1="194.00" x2="59.40" y2="196.60" stroke="#111" stroke-width="1.0" />
<rect x="66.38" y="165.72" width="8.38" height="28.28" fill="#000000" stroke="#1a1a1a" stroke-width="0.65"/>
<line x1="70.57" y1="164.52" x2="70.57" y2="165.72" stroke="#222" stroke-width="0.6" />
<line x1="69.17" y1="164.52" x2="71.97" y2="164.52" stroke="#222" stroke-width="0.6" />
<line x1="67.18" y1="166.02" x2="73.96" y2="166.02" stroke="#222" stroke-width="0.8" />
<circle cx="69.07" cy="165.82" r="0.65" fill="#333"/>
<circle cx="70.57" cy="165.12" r="0.65" fill="#333"/>
<circle cx="72.07" cy="166.12" r="0.65" fill="#333"/>
<line x1="70.57" y1="194.00" x2="70.57" y2="196.60" stroke="#111" stroke-width="1.0" />
<rect x="77.55" y="177.98" width="8.38" height="16.02" fill="#f7dcdf" stroke="#1a1a1a" stroke-width="0.65"/>
<line x1="81.74" y1="176.78" x2="81.74" y2="177.98" stroke="#222" stroke-width="0.6" />
<line x1="80.34" y1="176.78" x2="83.14" y2="176.78" stroke="#222" stroke-width="0.6" />
<line x1="78.35" y1="178.28" x2="85.13" y2="178.28" stroke="#222" stroke-width="0.8" />
<circle cx="80.24" cy="178.08" r="0.65" fill="#333"/>
<circle cx="81.74" cy="177.38" r="0.65" fill="#333"/>
<circle cx="83.24" cy="178.38" r="0.65" fill="#333"/>
<line x1="81.74" y1="194.00" x2="81.74" y2="196.60" stroke="#111" stroke-width="1.0" />
<text x="81.74" y="176.58" font-family='"Liberation Sans", sans-serif' font-weight="normal" font-size="7.40" text-anchor="middle" fill="#2a2a2a" textLength="9.60" lengthAdjust="spacing">***</text>
<rect x="88.72" y="178.32" width="8.38" height="15.68" fill="#f2a2a9" stroke="#1a1a1a" stroke-width="0.65"/>
<line x1="92.91" y1="177.12" x2="92.91" y2="178.32" stroke="#222" stroke-width="0.6" />
<line x1="91.51" y1="177.12" x2="94.31" y2="177.12" stroke="#222" stroke-width="0.6" />
<line x1="89.52" y1="178.62" x2="96.30" y2="178.62" stroke="#222" stroke-width="0.8" />
<circle cx="91.41" cy="178.42" r="0.65" fill="#333"/>
<circle cx="92.91" cy="177.72" r="0.65" fill="#333"/>
<circle cx="94.41" cy="178.72" r="0.65" fill="#333"/>
<line x1="92.91" y1="194.00" x2="92.91" y2="196.60" stroke="#111" stroke-width="1.0" />
<text x="92.91" y="176.92" font-family='"Liberation Sans", sans-serif' font-weight="normal" font-size="7.40" text-anchor="middle" fill="#2a2a2a" textLength="9.60" lengthAdjust="spacing">***</text>
<rect x="99.89" y="183.92" width="8.38" height="10.08" fill="#ef7b82" stroke="#1a1a1a" stroke-width="0.65"/>
<line x1="104.08" y1="182.72" x2="104.08" y2="183.92" stroke="#222" stroke-width="0.6" />
<line x1="102.68" y1="182.72" x2="105.48" y2="182.72" stroke="#222" stroke-width="0.6" />
<line x1="100.69" y1="184.22" x2="107.47" y2="184.22" stroke="#222" stroke-width="0.8" />
<circle cx="102.58" cy="184.02" r="0.65" fill="#333"/>
<circle cx="104.08" cy="183.32" r="0.65" fill="#333"/>
<circle cx="105.58" cy="184.32" r="0.65" fill="#333"/>
<line x1="104.08" y1="194.00" x2="104.08" y2="196.60" stroke="#111" stroke-width="1.0" />
<text x="104.08" y="182.52" font-family='"Liberation Sans", sans-serif' font-weight="normal" font-size="7.40" text-anchor="middle" fill="#2a2a2a" textLength="9.60" lengthAdjust="spacing">***</text>
<rect x="111.06" y="187.84" width="8.38" height="6.16" fill="#ef3b45" stroke="#1a1a1a" stroke-width="0.65"/>
<line x1="115.25" y1="186.64" x2="115.25" y2="187.84" stroke="#222" stroke-width="0.6" />
<line x1="113.85" y1="186.64" x2="116.65" y2="186.64" stroke="#222" stroke-width="0.6" />
<line x1="111.86" y1="188.14" x2="118.64" y2="188.14" stroke="#222" stroke-width="0.8" />
<circle cx="113.75" cy="187.94" r="0.65" fill="#333"/>
<circle cx="115.25" cy="187.24" r="0.65" fill="#333"/>
<circle cx="116.75" cy="188.24" r="0.65" fill="#333"/>
<line x1="115.25" y1="194.00" x2="115.25" y2="196.60" stroke="#111" stroke-width="1.0" />
<text x="115.25" y="186.44" font-family='"Liberation Sans", sans-serif' font-weight="normal" font-size="7.40" text-anchor="middle" fill="#2a2a2a" textLength="9.60" lengthAdjust="spacing">***</text>
<rect x="122.23" y="191.48" width="8.38" height="2.52" fill="#ec1c22" stroke="#1a1a1a" stroke-width="0.65"/>
<line x1="126.42" y1="190.28" x2="126.42" y2="191.48" stroke="#222" stroke-width="0.6" />
<line x1="125.02" y1="190.28" x2="127.82" y2="190.28" stroke="#222" stroke-width="0.6" />
<line x1="123.03" y1="191.78" x2="129.81" y2="191.78" stroke="#222" stroke-width="0.8" />
<circle cx="124.92" cy="191.58" r="0.65" fill="#333"/>
<circle cx="126.42" cy="190.88" r="0.65" fill="#333"/>
<circle cx="127.92" cy="191.88" r="0.65" fill="#333"/>
<line x1="126.42" y1="194.00" x2="126.42" y2="196.60" stroke="#111" stroke-width="1.0" />
<text x="126.42" y="190.08" font-family='"Liberation Sans", sans-serif' font-weight="normal" font-size="7.40" text-anchor="middle" fill="#2a2a2a" textLength="9.60" lengthAdjust="spacing">***</text>
<text class="s" transform="translate(37.70,204.00) scale(0.8696,1)" font-family='"Liberation Serif", serif' font-weight="bold" font-size="8.28" text-anchor="middle" fill="#111" >DHA</text>
<text class="s" transform="translate(37.70,214.90) scale(0.8696,1)" font-family='"Liberation Serif", serif' font-weight="bold" font-size="8.28" text-anchor="middle" fill="#111" >idelalisib</text>
<text x="59.40" y="203.70" font-family='"Liberation Sans", sans-serif' font-weight="normal" font-size="5.60" text-anchor="middle" fill="#222" >-</text>
<text x="70.57" y="203.70" font-family='"Liberation Sans", sans-serif' font-weight="normal" font-size="5.60" text-anchor="middle" fill="#222" >+</text>
<text x="81.74" y="203.70" font-family='"Liberation Sans", sans-serif' font-weight="normal" font-size="5.60" text-anchor="middle" fill="#222" >+</text>
<text x="92.91" y="203.70" font-family='"Liberation Sans", sans-serif' font-weight="normal" font-size="5.60" text-anchor="middle" fill="#222" >+</text>
<text x="104.08" y="203.70" font-family='"Liberation Sans", sans-serif' font-weight="normal" font-size="5.60" text-anchor="middle" fill="#222" >+</text>
<text x="115.25" y="203.70" font-family='"Liberation Sans", sans-serif' font-weight="normal" font-size="5.60" text-anchor="middle" fill="#222" >+</text>
<text x="126.42" y="203.70" font-family='"Liberation Sans", sans-serif' font-weight="normal" font-size="5.60" text-anchor="middle" fill="#222" >+</text>
<text x="59.40" y="213.70" font-family='"Liberation Sans", sans-serif' font-weight="normal" font-size="5.60" text-anchor="middle" fill="#222" >-</text>
<text x="70.57" y="213.70" font-family='"Liberation Sans", sans-serif' font-weight="normal" font-size="5.60" text-anchor="middle" fill="#222" >-</text>
<g transform="translate(85.74,210.10) rotate(-45)">
<text class="s" transform="translate(0.00,0.00) scale(0.9434,1)" font-family='"Liberation Serif", serif' font-weight="bold" font-size="5.83" text-anchor="end" fill="#1a1a1a" >0.63 µM</text>
</g>
<g transform="translate(97.36,210.10) rotate(-45)">
<text class="s" transform="translate(0.00,0.00) scale(0.9434,1)" font-family='"Liberation Serif", serif' font-weight="bold" font-size="5.83" text-anchor="end" fill="#1a1a1a" >1.25 µM</text>
</g>
<g transform="translate(108.97,210.10) rotate(-45)">
<text class="s" transform="translate(0.00,0.00) scale(0.9434,1)" font-family='"Liberation Serif", serif' font-weight="bold" font-size="5.83" text-anchor="end" fill="#1a1a1a" >2.5 µM</text>
</g>
<g transform="translate(120.59,210.10) rotate(-45)">
<text class="s" transform="translate(0.00,0.00) scale(0.9434,1)" font-family='"Liberation Serif", serif' font-weight="bold" font-size="5.83" text-anchor="end" fill="#1a1a1a" >5.0 µM</text>
</g>
<g transform="translate(132.21,210.10) rotate(-45)">
<text class="s" transform="translate(0.00,0.00) scale(0.9434,1)" font-family='"Liberation Serif", serif' font-weight="bold" font-size="5.83" text-anchor="end" fill="#1a1a1a" >10.0 µM</text>
</g>
<g transform="translate(164.40,153.95) rotate(-90)">
<text class="s" transform="translate(0.00,0.00) scale(0.9259,1)" font-family='"Liberation Serif", serif' font-weight="bold" font-size="8.28" text-anchor="middle" fill="#111" >The relative survival rate</text>
<text class="s" transform="translate(0.00,8.91) scale(0.9259,1)" font-family='"Liberation Serif", serif' font-weight="bold" font-size="8.28" text-anchor="middle" fill="#111" >(%)</text>
</g>
<line x1="190.50" y1="114.50" x2="190.50" y2="195.55" stroke="#111" stroke-width="1.1" />
<line x1="186.86" y1="195.00" x2="272.09" y2="195.00" stroke="#111" stroke-width="1.1" />
<line x1="186.86" y1="195.00" x2="190.50" y2="195.00" stroke="#111" stroke-width="1.0" />
<text x="186.38" y="197.20" font-family='"Liberation Sans", sans-serif' font-weight="bold" font-size="6.42" text-anchor="end" fill="#000" textLength="3.45" lengthAdjust="spacingAndGlyphs">0</text>
<line x1="186.86" y1="168.17" x2="190.50" y2="168.17" stroke="#111" stroke-width="1.0" />
<text x="186.38" y="170.37" font-family='"Liberation Sans", sans-serif' font-weight="bold" font-size="6.42" text-anchor="end" fill="#000" textLength="6.90" lengthAdjust="spacingAndGlyphs">50</text>
<line x1="186.86" y1="141.33" x2="190.50" y2="141.33" stroke="#111" stroke-width="1.0" />
<text x="186.38" y="143.54" font-family='"Liberation Sans", sans-serif' font-weight="bold" font-size="6.42" text-anchor="end" fill="#000" textLength="10.35" lengthAdjust="spacingAndGlyphs">100</text>
<line x1="186.86" y1="114.50" x2="190.50" y2="114.50" stroke="#111" stroke-width="1.0" />
<text x="186.38" y="116.70" font-family='"Liberation Sans", sans-serif' font-weight="bold" font-size="6.42" text-anchor="end" fill="#000" textLength="10.35" lengthAdjust="spacingAndGlyphs">150</text>
<rect x="195.00" y="141.33" width="8.00" height="53.67" fill="#ffffff" stroke="#1a1a1a" stroke-width="0.65"/>
<line x1="199.00" y1="138.33" x2="199.00" y2="141.33" stroke="#222" stroke-width="0.6" />
<line x1="197.60" y1="138.33" x2="200.40" y2="138.33" stroke="#222" stroke-width="0.6" />
<line x1="195.80" y1="141.63" x2="202.20" y2="141.63" stroke="#222" stroke-width="0.8" />
<circle cx="197.50" cy="141.43" r="0.65" fill="#333"/>
<circle cx="199.00" cy="140.73" r="0.65" fill="#333"/>
<circle cx="200.50" cy="141.73" r="0.65" fill="#333"/>
<line x1="199.00" y1="195.00" x2="199.00" y2="197.49" stroke="#111" stroke-width="1.0" />
<rect x="205.67" y="168.22" width="8.00" height="26.78" fill="#000000" stroke="#1a1a1a" stroke-width="0.65"/>
<line x1="209.67" y1="167.02" x2="209.67" y2="168.22" stroke="#222" stroke-width="0.6" />
<line x1="208.27" y1="167.02" x2="211.07" y2="167.02" stroke="#222" stroke-width="0.6" />
<line x1="206.47" y1="168.52" x2="212.87" y2="168.52" stroke="#222" stroke-width="0.8" />
<circle cx="208.17" cy="168.32" r="0.65" fill="#333"/>
<circle cx="209.67" cy="167.62" r="0.65" fill="#333"/>
<circle cx="211.17" cy="168.62" r="0.65" fill="#333"/>
<line x1="209.67" y1="195.00" x2="209.67" y2="197.49" stroke="#111" stroke-width="1.0" />
<rect x="216.34" y="175.73" width="8.00" height="19.27" fill="#f7dcdf" stroke="#1a1a1a" stroke-width="0.65"/>
<line x1="220.34" y1="174.53" x2="220.34" y2="175.73" stroke="#222" stroke-width="0.6" />
<line x1="218.94" y1="174.53" x2="221.74" y2="174.53" stroke="#222" stroke-width="0.6" />
<line x1="217.14" y1="176.03" x2="223.54" y2="176.03" stroke="#222" stroke-width="0.8" />
<circle cx="218.84" cy="175.83" r="0.65" fill="#333"/>
<circle cx="220.34" cy="175.13" r="0.65" fill="#333"/>
<circle cx="221.84" cy="176.13" r="0.65" fill="#333"/>
<line x1="220.34" y1="195.00" x2="220.34" y2="197.49" stroke="#111" stroke-width="1.0" />
<text x="220.34" y="174.39" font-family='"Liberation Sans", sans-serif' font-weight="normal" font-size="7.09" text-anchor="middle" fill="#2a2a2a" textLength="9.20" lengthAdjust="spacing">***</text>
<rect x="227.01" y="176.11" width="8.00" height="18.89" fill="#f2a2a9" stroke="#1a1a1a" stroke-width="0.65"/>
<line x1="231.01" y1="174.91" x2="231.01" y2="176.11" stroke="#222" stroke-width="0.6" />
<line x1="229.61" y1="174.91" x2="232.41" y2="174.91" stroke="#222" stroke-width="0.6" />
<line x1="227.81" y1="176.41" x2="234.21" y2="176.41" stroke="#222" stroke-width="0.8" />
<circle cx="229.51" cy="176.21" r="0.65" fill="#333"/>
<circle cx="231.01" cy="175.51" r="0.65" fill="#333"/>
<circle cx="232.51" cy="176.51" r="0.65" fill="#333"/>
<line x1="231.01" y1="195.00" x2="231.01" y2="197.49" stroke="#111" stroke-width="1.0" />
<text x="231.01" y="174.77" font-family='"Liberation Sans", sans-serif' font-weight="normal" font-size="7.09" text-anchor="middle" fill="#2a2a2a" textLength="9.20" lengthAdjust="spacing">***</text>
<rect x="237.68" y="179.49" width="8.00" height="15.51" fill="#ef7b82" stroke="#1a1a1a" stroke-width="0.65"/>
<line x1="241.68" y1="178.29" x2="241.68" y2="179.49" stroke="#222" stroke-width="0.6" />
<line x1="240.28" y1="178.29" x2="243.08" y2="178.29" stroke="#222" stroke-width="0.6" />
<line x1="238.48" y1="179.79" x2="244.88" y2="179.79" stroke="#222" stroke-width="0.8" />
<circle cx="240.18" cy="179.59" r="0.65" fill="#333"/>
<circle cx="241.68" cy="178.89" r="0.65" fill="#333"/>
<circle cx="243.18" cy="179.89" r="0.65" fill="#333"/>
<line x1="241.68" y1="195.00" x2="241.68" y2="197.49" stroke="#111" stroke-width="1.0" />
<text x="241.68" y="178.15" font-family='"Liberation Sans", sans-serif' font-weight="normal" font-size="7.09" text-anchor="middle" fill="#2a2a2a" textLength="9.20" lengthAdjust="spacing">***</text>
<rect x="248.35" y="187.49" width="8.00" height="7.51" fill="#ef3b45" stroke="#1a1a1a" stroke-width="0.65"/>
<line x1="252.35" y1="186.29" x2="252.35" y2="187.49" stroke="#222" stroke-width="0.6" />
<line x1="250.95" y1="186.29" x2="253.75" y2="186.29" stroke="#222" stroke-width="0.6" />
<line x1="249.15" y1="187.79" x2="255.55" y2="187.79" stroke="#222" stroke-width="0.8" />
<circle cx="250.85" cy="187.59" r="0.65" fill="#333"/>
<circle cx="252.35" cy="186.89" r="0.65" fill="#333"/>
<circle cx="253.85" cy="187.89" r="0.65" fill="#333"/>
<line x1="252.35" y1="195.00" x2="252.35" y2="197.49" stroke="#111" stroke-width="1.0" />
<text x="252.35" y="186.15" font-family='"Liberation Sans", sans-serif' font-weight="normal" font-size="7.09" text-anchor="middle" fill="#2a2a2a" textLength="9.20" lengthAdjust="spacing">***</text>
<rect x="259.02" y="186.79" width="8.00" height="8.21" fill="#ec1c22" stroke="#1a1a1a" stroke-width="0.65"/>
<line x1="263.02" y1="185.59" x2="263.02" y2="186.79" stroke="#222" stroke-width="0.6" />
<line x1="261.62" y1="185.59" x2="264.42" y2="185.59" stroke="#222" stroke-width="0.6" />
<line x1="259.82" y1="187.09" x2="266.22" y2="187.09" stroke="#222" stroke-width="0.8" />
<circle cx="261.52" cy="186.89" r="0.65" fill="#333"/>
<circle cx="263.02" cy="186.19" r="0.65" fill="#333"/>
<circle cx="264.52" cy="187.19" r="0.65" fill="#333"/>
<line x1="263.02" y1="195.00" x2="263.02" y2="197.49" stroke="#111" stroke-width="1.0" />
<text x="263.02" y="185.45" font-family='"Liberation Sans", sans-serif' font-weight="normal" font-size="7.09" text-anchor="middle" fill="#2a2a2a" textLength="9.20" lengthAdjust="spacing">***</text>
<text class="s" transform="translate(179.00,204.00) scale(0.8696,1)" font-family='"Liberation Serif", serif' font-weight="bold" font-size="7.93" text-anchor="middle" fill="#111" >DHA</text>
<text class="s" transform="translate(179.00,214.90) scale(0.8696,1)" font-family='"Liberation Serif", serif' font-weight="bold" font-size="7.93" text-anchor="middle" fill="#111" >umbralisib</text>
<text x="199.00" y="203.70" font-family='"Liberation Sans", sans-serif' font-weight="normal" font-size="5.37" text-anchor="middle" fill="#222" >-</text>
<text x="209.67" y="203.70" font-family='"Liberation Sans", sans-serif' font-weight="normal" font-size="5.37" text-anchor="middle" fill="#222" >+</text>
<text x="220.34" y="203.70" font-family='"Liberation Sans", sans-serif' font-weight="normal" font-size="5.37" text-anchor="middle" fill="#222" >+</text>
<text x="231.01" y="203.70" font-family='"Liberation Sans", sans-serif' font-weight="normal" font-size="5.37" text-anchor="middle" fill="#222" >+</text>
<text x="241.68" y="203.70" font-family='"Liberation Sans", sans-serif' font-weight="normal" font-size="5.37" text-anchor="middle" fill="#222" >+</text>
<text x="252.35" y="203.70" font-family='"Liberation Sans", sans-serif' font-weight="normal" font-size="5.37" text-anchor="middle" fill="#222" >+</text>
<text x="263.02" y="203.70" font-family='"Liberation Sans", sans-serif' font-weight="normal" font-size="5.37" text-anchor="middle" fill="#222" >+</text>
<text x="199.00" y="213.70" font-family='"Liberation Sans", sans-serif' font-weight="normal" font-size="5.37" text-anchor="middle" fill="#222" >-</text>
<text x="209.67" y="213.70" font-family='"Liberation Sans", sans-serif' font-weight="normal" font-size="5.37" text-anchor="middle" fill="#222" >-</text>
<g transform="translate(224.17,211.40) rotate(-45)">
<text class="s" transform="translate(0.00,0.00) scale(0.9434,1)" font-family='"Liberation Serif", serif' font-weight="bold" font-size="5.59" text-anchor="end" fill="#1a1a1a" >0.48 µM</text>
</g>
<g transform="translate(235.38,211.40) rotate(-45)">
<text class="s" transform="translate(0.00,0.00) scale(0.9434,1)" font-family='"Liberation Serif", serif' font-weight="bold" font-size="5.59" text-anchor="end" fill="#1a1a1a" >0.96 µM</text>
</g>
<g transform="translate(246.58,211.40) rotate(-45)">
<text class="s" transform="translate(0.00,0.00) scale(0.9434,1)" font-family='"Liberation Serif", serif' font-weight="bold" font-size="5.59" text-anchor="end" fill="#1a1a1a" >1.92 µM</text>
</g>
<g transform="translate(257.78,211.40) rotate(-45)">
<text class="s" transform="translate(0.00,0.00) scale(0.9434,1)" font-family='"Liberation Serif", serif' font-weight="bold" font-size="5.59" text-anchor="end" fill="#1a1a1a" >3.84 µM</text>
</g>
<g transform="translate(268.99,211.40) rotate(-45)">
<text class="s" transform="translate(0.00,0.00) scale(0.9434,1)" font-family='"Liberation Serif", serif' font-weight="bold" font-size="5.59" text-anchor="end" fill="#1a1a1a" >7.68 µM</text>
</g>
<g transform="translate(297.70,150.80) rotate(-90)">
<text class="s" transform="translate(0.00,0.00) scale(0.9259,1)" font-family='"Liberation Serif", serif' font-weight="bold" font-size="8.55" text-anchor="middle" fill="#111" >The relative survival rate</text>
<text class="s" transform="translate(0.00,9.21) scale(0.9259,1)" font-family='"Liberation Serif", serif' font-weight="bold" font-size="8.55" text-anchor="middle" fill="#111" >(%)</text>
</g>
<line x1="324.00" y1="110.00" x2="324.00" y2="193.75" stroke="#111" stroke-width="1.1" />
<line x1="320.24" y1="193.20" x2="409.83" y2="193.20" stroke="#111" stroke-width="1.1" />
<line x1="320.24" y1="193.20" x2="324.00" y2="193.20" stroke="#111" stroke-width="1.0" />
<text x="319.74" y="195.48" font-family='"Liberation Sans", sans-serif' font-weight="bold" font-size="6.64" text-anchor="end" fill="#000" textLength="3.57" lengthAdjust="spacingAndGlyphs">0</text>
<line x1="320.24" y1="165.47" x2="324.00" y2="165.47" stroke="#111" stroke-width="1.0" />
<text x="319.74" y="167.74" font-family='"Liberation Sans", sans-serif' font-weight="bold" font-size="6.64" text-anchor="end" fill="#000" textLength="7.13" lengthAdjust="spacingAndGlyphs">50</text>
<line x1="320.24" y1="137.73" x2="324.00" y2="137.73" stroke="#111" stroke-width="1.0" />
<text x="319.74" y="140.01" font-family='"Liberation Sans", sans-serif' font-weight="bold" font-size="6.64" text-anchor="end" fill="#000" textLength="10.70" lengthAdjust="spacingAndGlyphs">100</text>
<line x1="320.24" y1="110.00" x2="324.00" y2="110.00" stroke="#111" stroke-width="1.0" />
<text x="319.74" y="112.28" font-family='"Liberation Sans", sans-serif' font-weight="bold" font-size="6.64" text-anchor="end" fill="#000" textLength="10.70" lengthAdjust="spacingAndGlyphs">150</text>
<rect x="329.64" y="137.73" width="8.32" height="55.47" fill="#ffffff" stroke="#1a1a1a" stroke-width="0.65"/>
<line x1="333.80" y1="134.73" x2="333.80" y2="137.73" stroke="#222" stroke-width="0.6" />
<line x1="332.40" y1="134.73" x2="335.20" y2="134.73" stroke="#222" stroke-width="0.6" />
<line x1="330.44" y1="138.03" x2="337.16" y2="138.03" stroke="#222" stroke-width="0.8" />
<circle cx="332.30" cy="137.83" r="0.65" fill="#333"/>
<circle cx="333.80" cy="137.13" r="0.65" fill="#333"/>
<circle cx="335.30" cy="138.13" r="0.65" fill="#333"/>
<line x1="333.80" y1="193.20" x2="333.80" y2="195.78" stroke="#111" stroke-width="1.0" />
<rect x="340.74" y="168.24" width="8.32" height="24.96" fill="#000000" stroke="#1a1a1a" stroke-width="0.65"/>
<line x1="344.90" y1="167.04" x2="344.90" y2="168.24" stroke="#222" stroke-width="0.6" />
<line x1="343.50" y1="167.04" x2="346.30" y2="167.04" stroke="#222" stroke-width="0.6" />
<line x1="341.54" y1="168.54" x2="348.26" y2="168.54" stroke="#222" stroke-width="0.8" />
<circle cx="343.40" cy="168.34" r="0.65" fill="#333"/>
<circle cx="344.90" cy="167.64" r="0.65" fill="#333"/>
<circle cx="346.40" cy="168.64" r="0.65" fill="#333"/>
<line x1="344.90" y1="193.20" x2="344.90" y2="195.78" stroke="#111" stroke-width="1.0" />
<rect x="351.84" y="170.01" width="8.32" height="23.19" fill="#f7dcdf" stroke="#1a1a1a" stroke-width="0.65"/>
<line x1="356.00" y1="168.81" x2="356.00" y2="170.01" stroke="#222" stroke-width="0.6" />
<line x1="354.60" y1="168.81" x2="357.40" y2="168.81" stroke="#222" stroke-width="0.6" />
<line x1="352.64" y1="170.31" x2="359.36" y2="170.31" stroke="#222" stroke-width="0.8" />
<circle cx="354.50" cy="170.11" r="0.65" fill="#333"/>
<circle cx="356.00" cy="169.41" r="0.65" fill="#333"/>
<circle cx="357.50" cy="170.41" r="0.65" fill="#333"/>
<line x1="356.00" y1="193.20" x2="356.00" y2="195.78" stroke="#111" stroke-width="1.0" />
<text x="356.00" y="168.63" font-family='"Liberation Sans", sans-serif' font-weight="normal" font-size="7.33" text-anchor="middle" fill="#2a2a2a" textLength="6.34" lengthAdjust="spacing">**</text>
<rect x="362.94" y="173.23" width="8.32" height="19.97" fill="#f2a2a9" stroke="#1a1a1a" stroke-width="0.65"/>
<line x1="367.10" y1="172.03" x2="367.10" y2="173.23" stroke="#222" stroke-width="0.6" />
<line x1="365.70" y1="172.03" x2="368.50" y2="172.03" stroke="#222" stroke-width="0.6" />
<line x1="363.74" y1="173.53" x2="370.46" y2="173.53" stroke="#222" stroke-width="0.8" />
<circle cx="365.60" cy="173.33" r="0.65" fill="#333"/>
<circle cx="367.10" cy="172.63" r="0.65" fill="#333"/>
<circle cx="368.60" cy="173.63" r="0.65" fill="#333"/>
<line x1="367.10" y1="193.20" x2="367.10" y2="195.78" stroke="#111" stroke-width="1.0" />
<text x="367.10" y="171.85" font-family='"Liberation Sans", sans-serif' font-weight="normal" font-size="7.33" text-anchor="middle" fill="#2a2a2a" textLength="9.51" lengthAdjust="spacing">***</text>
<rect x="374.04" y="180.22" width="8.32" height="12.98" fill="#ef7b82" stroke="#1a1a1a" stroke-width="0.65"/>
<line x1="378.20" y1="179.02" x2="378.20" y2="180.22" stroke="#222" stroke-width="0.6" />
<line x1="376.80" y1="179.02" x2="379.60" y2="179.02" stroke="#222" stroke-width="0.6" />
<line x1="374.84" y1="180.52" x2="381.56" y2="180.52" stroke="#222" stroke-width="0.8" />
<circle cx="376.70" cy="180.32" r="0.65" fill="#333"/>
<circle cx="378.20" cy="179.62" r="0.65" fill="#333"/>
<circle cx="379.70" cy="180.62" r="0.65" fill="#333"/>
<line x1="378.20" y1="193.20" x2="378.20" y2="195.78" stroke="#111" stroke-width="1.0" />
<text x="378.20" y="178.83" font-family='"Liberation Sans", sans-serif' font-weight="normal" font-size="7.33" text-anchor="middle" fill="#2a2a2a" textLength="9.51" lengthAdjust="spacing">***</text>
<rect x="385.14" y="183.38" width="8.32" height="9.82" fill="#ef3b45" stroke="#1a1a1a" stroke-width="0.65"/>
<line x1="389.30" y1="182.18" x2="389.30" y2="183.38" stroke="#222" stroke-width="0.6" />
<line x1="387.90" y1="182.18" x2="390.70" y2="182.18" stroke="#222" stroke-width="0.6" />
<line x1="385.94" y1="183.68" x2="392.66" y2="183.68" stroke="#222" stroke-width="0.8" />
<circle cx="387.80" cy="183.48" r="0.65" fill="#333"/>
<circle cx="389.30" cy="182.78" r="0.65" fill="#333"/>
<circle cx="390.80" cy="183.78" r="0.65" fill="#333"/>
<line x1="389.30" y1="193.20" x2="389.30" y2="195.78" stroke="#111" stroke-width="1.0" />
<text x="389.30" y="182.00" font-family='"Liberation Sans", sans-serif' font-weight="normal" font-size="7.33" text-anchor="middle" fill="#2a2a2a" textLength="9.51" lengthAdjust="spacing">***</text>
<rect x="396.24" y="187.71" width="8.32" height="5.49" fill="#ec1c22" stroke="#1a1a1a" stroke-width="0.65"/>
<line x1="400.40" y1="186.51" x2="400.40" y2="187.71" stroke="#222" stroke-width="0.6" />
<line x1="399.00" y1="186.51" x2="401.80" y2="186.51" stroke="#222" stroke-width="0.6" />
<line x1="397.04" y1="188.01" x2="403.76" y2="188.01" stroke="#222" stroke-width="0.8" />
<circle cx="398.90" cy="187.81" r="0.65" fill="#333"/>
<circle cx="400.40" cy="187.11" r="0.65" fill="#333"/>
<circle cx="401.90" cy="188.11" r="0.65" fill="#333"/>
<line x1="400.40" y1="193.20" x2="400.40" y2="195.78" stroke="#111" stroke-width="1.0" />
<text x="400.40" y="186.32" font-family='"Liberation Sans", sans-serif' font-weight="normal" font-size="7.33" text-anchor="middle" fill="#2a2a2a" textLength="9.51" lengthAdjust="spacing">***</text>
<text class="s" transform="translate(312.80,203.00) scale(0.8696,1)" font-family='"Liberation Serif", serif' font-weight="bold" font-size="8.20" text-anchor="middle" fill="#111" >DHA</text>
<text class="s" transform="translate(312.80,213.80) scale(0.8696,1)" font-family='"Liberation Serif", serif' font-weight="bold" font-size="8.20" text-anchor="middle" fill="#111" >taselisib</text>
<text x="333.80" y="202.70" font-family='"Liberation Sans", sans-serif' font-weight="normal" font-size="5.55" text-anchor="middle" fill="#222" >-</text>
<text x="344.90" y="202.70" font-family='"Liberation Sans", sans-serif' font-weight="normal" font-size="5.55" text-anchor="middle" fill="#222" >+</text>
<text x="356.00" y="202.70" font-family='"Liberation Sans", sans-serif' font-weight="normal" font-size="5.55" text-anchor="middle" fill="#222" >+</text>
<text x="367.10" y="202.70" font-family='"Liberation Sans", sans-serif' font-weight="normal" font-size="5.55" text-anchor="middle" fill="#222" >+</text>
<text x="378.20" y="202.70" font-family='"Liberation Sans", sans-serif' font-weight="normal" font-size="5.55" text-anchor="middle" fill="#222" >+</text>
<text x="389.30" y="202.70" font-family='"Liberation Sans", sans-serif' font-weight="normal" font-size="5.55" text-anchor="middle" fill="#222" >+</text>
<text x="400.40" y="202.70" font-family='"Liberation Sans", sans-serif' font-weight="normal" font-size="5.55" text-anchor="middle" fill="#222" >+</text>
<text x="333.80" y="212.60" font-family='"Liberation Sans", sans-serif' font-weight="normal" font-size="5.55" text-anchor="middle" fill="#222" >-</text>
<text x="344.90" y="212.60" font-family='"Liberation Sans", sans-serif' font-weight="normal" font-size="5.55" text-anchor="middle" fill="#222" >-</text>
<g transform="translate(359.96,210.00) rotate(-45)">
<text class="s" transform="translate(0.00,0.00) scale(0.9434,1)" font-family='"Liberation Serif", serif' font-weight="bold" font-size="5.78" text-anchor="end" fill="#1a1a1a" >0.58 µM</text>
</g>
<g transform="translate(371.51,210.00) rotate(-45)">
<text class="s" transform="translate(0.00,0.00) scale(0.9434,1)" font-family='"Liberation Serif", serif' font-weight="bold" font-size="5.78" text-anchor="end" fill="#1a1a1a" >1.16 µM</text>
</g>
<g transform="translate(383.05,210.00) rotate(-45)">
<text class="s" transform="translate(0.00,0.00) scale(0.9434,1)" font-family='"Liberation Serif", serif' font-weight="bold" font-size="5.78" text-anchor="end" fill="#1a1a1a" >2.32 µM</text>
</g>
<g transform="translate(394.59,210.00) rotate(-45)">
<text class="s" transform="translate(0.00,0.00) scale(0.9434,1)" font-family='"Liberation Serif", serif' font-weight="bold" font-size="5.78" text-anchor="end" fill="#1a1a1a" >4.64 µM</text>
</g>
<g transform="translate(406.14,210.00) rotate(-45)">
<text class="s" transform="translate(0.00,0.00) scale(0.9434,1)" font-family='"Liberation Serif", serif' font-weight="bold" font-size="5.78" text-anchor="end" fill="#1a1a1a" >9.28 µM</text>
</g>
<g transform="translate(437.00,152.45) rotate(-90)">
<text class="s" transform="translate(0.00,0.00) scale(0.9259,1)" font-family='"Liberation Serif", serif' font-weight="bold" font-size="8.04" text-anchor="middle" fill="#111" >The relative survival rate</text>
<text class="s" transform="translate(0.00,8.65) scale(0.9259,1)" font-family='"Liberation Serif", serif' font-weight="bold" font-size="8.04" text-anchor="middle" fill="#111" >(%)</text>
</g>
<line x1="462.60" y1="114.20" x2="462.60" y2="192.85" stroke="#111" stroke-width="1.1" />
<line x1="459.07" y1="192.30" x2="541.15" y2="192.30" stroke="#111" stroke-width="1.1" />
<line x1="459.07" y1="192.30" x2="462.60" y2="192.30" stroke="#111" stroke-width="1.0" />
<text x="458.60" y="194.44" font-family='"Liberation Sans", sans-serif' font-weight="bold" font-size="6.23" text-anchor="end" fill="#000" textLength="3.35" lengthAdjust="spacingAndGlyphs">0</text>
<line x1="459.07" y1="166.27" x2="462.60" y2="166.27" stroke="#111" stroke-width="1.0" />
<text x="458.60" y="168.41" font-family='"Liberation Sans", sans-serif' font-weight="bold" font-size="6.23" text-anchor="end" fill="#000" textLength="6.69" lengthAdjust="spacingAndGlyphs">50</text>
<line x1="459.07" y1="140.23" x2="462.60" y2="140.23" stroke="#111" stroke-width="1.0" />
<text x="458.60" y="142.37" font-family='"Liberation Sans", sans-serif' font-weight="bold" font-size="6.23" text-anchor="end" fill="#000" textLength="10.04" lengthAdjust="spacingAndGlyphs">100</text>
<line x1="459.07" y1="114.20" x2="462.60" y2="114.20" stroke="#111" stroke-width="1.0" />
<text x="458.60" y="116.34" font-family='"Liberation Sans", sans-serif' font-weight="bold" font-size="6.23" text-anchor="end" fill="#000" textLength="10.04" lengthAdjust="spacingAndGlyphs">150</text>
<rect x="466.74" y="140.23" width="7.73" height="52.07" fill="#ffffff" stroke="#1a1a1a" stroke-width="0.65"/>
<line x1="470.60" y1="137.23" x2="470.60" y2="140.23" stroke="#222" stroke-width="0.6" />
<line x1="469.20" y1="137.23" x2="472.00" y2="137.23" stroke="#222" stroke-width="0.6" />
<line x1="467.54" y1="140.53" x2="473.66" y2="140.53" stroke="#222" stroke-width="0.8" />
<circle cx="469.10" cy="140.33" r="0.65" fill="#333"/>
<circle cx="470.60" cy="139.63" r="0.65" fill="#333"/>
<circle cx="472.10" cy="140.63" r="0.65" fill="#333"/>
<line x1="470.60" y1="192.30" x2="470.60" y2="194.72" stroke="#111" stroke-width="1.0" />
<rect x="477.04" y="165.54" width="7.73" height="26.76" fill="#000000" stroke="#1a1a1a" stroke-width="0.65"/>
<line x1="480.90" y1="164.34" x2="480.90" y2="165.54" stroke="#222" stroke-width="0.6" />
<line x1="479.50" y1="164.34" x2="482.30" y2="164.34" stroke="#222" stroke-width="0.6" />
<line x1="477.84" y1="165.84" x2="483.96" y2="165.84" stroke="#222" stroke-width="0.8" />
<circle cx="479.40" cy="165.64" r="0.65" fill="#333"/>
<circle cx="480.90" cy="164.94" r="0.65" fill="#333"/>
<circle cx="482.40" cy="165.94" r="0.65" fill="#333"/>
<line x1="480.90" y1="192.30" x2="480.90" y2="194.72" stroke="#111" stroke-width="1.0" />
<rect x="487.34" y="166.42" width="7.73" height="25.88" fill="#f7dcdf" stroke="#1a1a1a" stroke-width="0.65"/>
<line x1="491.20" y1="165.22" x2="491.20" y2="166.42" stroke="#222" stroke-width="0.6" />
<line x1="489.80" y1="165.22" x2="492.60" y2="165.22" stroke="#222" stroke-width="0.6" />
<line x1="488.14" y1="166.72" x2="494.26" y2="166.72" stroke="#222" stroke-width="0.8" />
<circle cx="489.70" cy="166.52" r="0.65" fill="#333"/>
<circle cx="491.20" cy="165.82" r="0.65" fill="#333"/>
<circle cx="492.70" cy="166.82" r="0.65" fill="#333"/>
<line x1="491.20" y1="192.30" x2="491.20" y2="194.72" stroke="#111" stroke-width="1.0" />
<rect x="497.64" y="171.11" width="7.73" height="21.19" fill="#f2a2a9" stroke="#1a1a1a" stroke-width="0.65"/>
<line x1="501.50" y1="169.91" x2="501.50" y2="171.11" stroke="#222" stroke-width="0.6" />
<line x1="500.10" y1="169.91" x2="502.90" y2="169.91" stroke="#222" stroke-width="0.6" />
<line x1="498.44" y1="171.41" x2="504.56" y2="171.41" stroke="#222" stroke-width="0.8" />
<circle cx="500.00" cy="171.21" r="0.65" fill="#333"/>
<circle cx="501.50" cy="170.51" r="0.65" fill="#333"/>
<circle cx="503.00" cy="171.51" r="0.65" fill="#333"/>
<line x1="501.50" y1="192.30" x2="501.50" y2="194.72" stroke="#111" stroke-width="1.0" />
<text x="501.50" y="169.81" font-family='"Liberation Sans", sans-serif' font-weight="normal" font-size="6.88" text-anchor="middle" fill="#2a2a2a" textLength="8.93" lengthAdjust="spacing">***</text>
<rect x="507.94" y="173.92" width="7.73" height="18.38" fill="#ef7b82" stroke="#1a1a1a" stroke-width="0.65"/>
<line x1="511.80" y1="172.72" x2="511.80" y2="173.92" stroke="#222" stroke-width="0.6" />
<line x1="510.40" y1="172.72" x2="513.20" y2="172.72" stroke="#222" stroke-width="0.6" />
<line x1="508.74" y1="174.22" x2="514.86" y2="174.22" stroke="#222" stroke-width="0.8" />
<circle cx="510.30" cy="174.02" r="0.65" fill="#333"/>
<circle cx="511.80" cy="173.32" r="0.65" fill="#333"/>
<circle cx="513.30" cy="174.32" r="0.65" fill="#333"/>
<line x1="511.80" y1="192.30" x2="511.80" y2="194.72" stroke="#111" stroke-width="1.0" />
<text x="511.80" y="172.62" font-family='"Liberation Sans", sans-serif' font-weight="normal" font-size="6.88" text-anchor="middle" fill="#2a2a2a" textLength="8.93" lengthAdjust="spacing">***</text>
<rect x="518.24" y="180.22" width="7.73" height="12.08" fill="#ef3b45" stroke="#1a1a1a" stroke-width="0.65"/>
<line x1="522.10" y1="179.02" x2="522.10" y2="180.22" stroke="#222" stroke-width="0.6" />
<line x1="520.70" y1="179.02" x2="523.50" y2="179.02" stroke="#222" stroke-width="0.6" />
<line x1="519.04" y1="180.52" x2="525.16" y2="180.52" stroke="#222" stroke-width="0.8" />
<circle cx="520.60" cy="180.32" r="0.65" fill="#333"/>
<circle cx="522.10" cy="179.62" r="0.65" fill="#333"/>
<circle cx="523.60" cy="180.62" r="0.65" fill="#333"/>
<line x1="522.10" y1="192.30" x2="522.10" y2="194.72" stroke="#111" stroke-width="1.0" />
<text x="522.10" y="178.92" font-family='"Liberation Sans", sans-serif' font-weight="normal" font-size="6.88" text-anchor="middle" fill="#2a2a2a" textLength="8.93" lengthAdjust="spacing">***</text>
<rect x="528.54" y="181.78" width="7.73" height="10.52" fill="#ec1c22" stroke="#1a1a1a" stroke-width="0.65"/>
<line x1="532.40" y1="180.58" x2="532.40" y2="181.78" stroke="#222" stroke-width="0.6" />
<line x1="531.00" y1="180.58" x2="533.80" y2="180.58" stroke="#222" stroke-width="0.6" />
<line x1="529.34" y1="182.08" x2="535.46" y2="182.08" stroke="#222" stroke-width="0.8" />
<circle cx="530.90" cy="181.88" r="0.65" fill="#333"/>
<circle cx="532.40" cy="181.18" r="0.65" fill="#333"/>
<circle cx="533.90" cy="182.18" r="0.65" fill="#333"/>
<line x1="532.40" y1="192.30" x2="532.40" y2="194.72" stroke="#111" stroke-width="1.0" />
<text x="532.40" y="180.48" font-family='"Liberation Sans", sans-serif' font-weight="normal" font-size="6.88" text-anchor="middle" fill="#2a2a2a" textLength="8.93" lengthAdjust="spacing">***</text>
<text class="s" transform="translate(449.50,201.00) scale(0.8696,1)" font-family='"Liberation Serif", serif' font-weight="bold" font-size="7.69" text-anchor="middle" fill="#111" >DHA</text>
<text class="s" transform="translate(449.50,211.50) scale(0.8696,1)" font-family='"Liberation Serif", serif' font-weight="bold" font-size="7.69" text-anchor="middle" fill="#111" >AZD6482</text>
<text x="470.60" y="200.70" font-family='"Liberation Sans", sans-serif' font-weight="normal" font-size="5.21" text-anchor="middle" fill="#222" >-</text>
<text x="480.90" y="200.70" font-family='"Liberation Sans", sans-serif' font-weight="normal" font-size="5.21" text-anchor="middle" fill="#222" >+</text>
<text x="491.20" y="200.70" font-family='"Liberation Sans", sans-serif' font-weight="normal" font-size="5.21" text-anchor="middle" fill="#222" >+</text>
<text x="501.50" y="200.70" font-family='"Liberation Sans", sans-serif' font-weight="normal" font-size="5.21" text-anchor="middle" fill="#222" >+</text>
<text x="511.80" y="200.70" font-family='"Liberation Sans", sans-serif' font-weight="normal" font-size="5.21" text-anchor="middle" fill="#222" >+</text>
<text x="522.10" y="200.70" font-family='"Liberation Sans", sans-serif' font-weight="normal" font-size="5.21" text-anchor="middle" fill="#222" >+</text>
<text x="532.40" y="200.70" font-family='"Liberation Sans", sans-serif' font-weight="normal" font-size="5.21" text-anchor="middle" fill="#222" >+</text>
<text x="470.60" y="211.60" font-family='"Liberation Sans", sans-serif' font-weight="normal" font-size="5.21" text-anchor="middle" fill="#222" >-</text>
<text x="480.90" y="211.60" font-family='"Liberation Sans", sans-serif' font-weight="normal" font-size="5.21" text-anchor="middle" fill="#222" >-</text>
<g transform="translate(494.92,208.70) rotate(-45)">
<text class="s" transform="translate(0.00,0.00) scale(0.9434,1)" font-family='"Liberation Serif", serif' font-weight="bold" font-size="5.42" text-anchor="end" fill="#1a1a1a" >1.67 µM</text>
</g>
<g transform="translate(505.73,208.70) rotate(-45)">
<text class="s" transform="translate(0.00,0.00) scale(0.9434,1)" font-family='"Liberation Serif", serif' font-weight="bold" font-size="5.42" text-anchor="end" fill="#1a1a1a" >3.33 µM</text>
</g>
<g transform="translate(516.55,208.70) rotate(-45)">
<text class="s" transform="translate(0.00,0.00) scale(0.9434,1)" font-family='"Liberation Serif", serif' font-weight="bold" font-size="5.42" text-anchor="end" fill="#1a1a1a" >6.65 µM</text>
</g>
<g transform="translate(527.36,208.70) rotate(-45)">
<text class="s" transform="translate(0.00,0.00) scale(0.9434,1)" font-family='"Liberation Serif", serif' font-weight="bold" font-size="5.42" text-anchor="end" fill="#1a1a1a" >13.3 µM</text>
</g>
<g transform="translate(538.18,208.70) rotate(-45)">
<text class="s" transform="translate(0.00,0.00) scale(0.9434,1)" font-family='"Liberation Serif", serif' font-weight="bold" font-size="5.42" text-anchor="end" fill="#1a1a1a" >26.6 µM</text>
</g>
<g transform="translate(570.60,153.45) rotate(-90)">
<text class="s" transform="translate(0.00,0.00) scale(0.9259,1)" font-family='"Liberation Serif", serif' font-weight="bold" font-size="8.24" text-anchor="middle" fill="#111" >The relative survival rate</text>
<text class="s" transform="translate(0.00,8.87) scale(0.9259,1)" font-family='"Liberation Serif", serif' font-weight="bold" font-size="8.24" text-anchor="middle" fill="#111" >(%)</text>
</g>
<line x1="597.50" y1="114.20" x2="597.50" y2="194.85" stroke="#111" stroke-width="1.1" />
<line x1="593.88" y1="194.30" x2="678.84" y2="194.30" stroke="#111" stroke-width="1.1" />
<line x1="593.88" y1="194.30" x2="597.50" y2="194.30" stroke="#111" stroke-width="1.0" />
<text x="593.40" y="196.49" font-family='"Liberation Sans", sans-serif' font-weight="bold" font-size="6.39" text-anchor="end" fill="#000" textLength="3.43" lengthAdjust="spacingAndGlyphs">0</text>
<line x1="593.88" y1="167.60" x2="597.50" y2="167.60" stroke="#111" stroke-width="1.0" />
<text x="593.40" y="169.79" font-family='"Liberation Sans", sans-serif' font-weight="bold" font-size="6.39" text-anchor="end" fill="#000" textLength="6.87" lengthAdjust="spacingAndGlyphs">50</text>
<line x1="593.88" y1="140.90" x2="597.50" y2="140.90" stroke="#111" stroke-width="1.0" />
<text x="593.40" y="143.09" font-family='"Liberation Sans", sans-serif' font-weight="bold" font-size="6.39" text-anchor="end" fill="#000" textLength="10.30" lengthAdjust="spacingAndGlyphs">100</text>
<line x1="593.88" y1="114.20" x2="597.50" y2="114.20" stroke="#111" stroke-width="1.0" />
<text x="593.40" y="116.39" font-family='"Liberation Sans", sans-serif' font-weight="bold" font-size="6.39" text-anchor="end" fill="#000" textLength="10.30" lengthAdjust="spacingAndGlyphs">150</text>
<rect x="601.17" y="140.90" width="8.06" height="53.40" fill="#ffffff" stroke="#1a1a1a" stroke-width="0.65"/>
<line x1="605.20" y1="137.90" x2="605.20" y2="140.90" stroke="#222" stroke-width="0.6" />
<line x1="603.80" y1="137.90" x2="606.60" y2="137.90" stroke="#222" stroke-width="0.6" />
<line x1="601.97" y1="141.20" x2="608.43" y2="141.20" stroke="#222" stroke-width="0.8" />
<circle cx="603.70" cy="141.00" r="0.65" fill="#333"/>
<circle cx="605.20" cy="140.30" r="0.65" fill="#333"/>
<circle cx="606.70" cy="141.30" r="0.65" fill="#333"/>
<line x1="605.20" y1="194.30" x2="605.20" y2="196.78" stroke="#111" stroke-width="1.0" />
<rect x="611.92" y="165.89" width="8.06" height="28.41" fill="#000000" stroke="#1a1a1a" stroke-width="0.65"/>
<line x1="615.95" y1="164.69" x2="615.95" y2="165.89" stroke="#222" stroke-width="0.6" />
<line x1="614.55" y1="164.69" x2="617.35" y2="164.69" stroke="#222" stroke-width="0.6" />
<line x1="612.72" y1="166.19" x2="619.18" y2="166.19" stroke="#222" stroke-width="0.8" />
<circle cx="614.45" cy="165.99" r="0.65" fill="#333"/>
<circle cx="615.95" cy="165.29" r="0.65" fill="#333"/>
<circle cx="617.45" cy="166.29" r="0.65" fill="#333"/>
<line x1="615.95" y1="194.30" x2="615.95" y2="196.78" stroke="#111" stroke-width="1.0" />
<rect x="622.67" y="165.89" width="8.06" height="28.41" fill="#f7dcdf" stroke="#1a1a1a" stroke-width="0.65"/>
<line x1="626.70" y1="164.69" x2="626.70" y2="165.89" stroke="#222" stroke-width="0.6" />
<line x1="625.30" y1="164.69" x2="628.10" y2="164.69" stroke="#222" stroke-width="0.6" />
<line x1="623.47" y1="166.19" x2="629.93" y2="166.19" stroke="#222" stroke-width="0.8" />
<circle cx="625.20" cy="165.99" r="0.65" fill="#333"/>
<circle cx="626.70" cy="165.29" r="0.65" fill="#333"/>
<circle cx="628.20" cy="166.29" r="0.65" fill="#333"/>
<line x1="626.70" y1="194.30" x2="626.70" y2="196.78" stroke="#111" stroke-width="1.0" />
<rect x="633.42" y="165.20" width="8.06" height="29.10" fill="#f2a2a9" stroke="#1a1a1a" stroke-width="0.65"/>
<line x1="637.45" y1="164.00" x2="637.45" y2="165.20" stroke="#222" stroke-width="0.6" />
<line x1="636.05" y1="164.00" x2="638.85" y2="164.00" stroke="#222" stroke-width="0.6" />
<line x1="634.22" y1="165.50" x2="640.68" y2="165.50" stroke="#222" stroke-width="0.8" />
<circle cx="635.95" cy="165.30" r="0.65" fill="#333"/>
<circle cx="637.45" cy="164.60" r="0.65" fill="#333"/>
<circle cx="638.95" cy="165.60" r="0.65" fill="#333"/>
<line x1="637.45" y1="194.30" x2="637.45" y2="196.78" stroke="#111" stroke-width="1.0" />
<rect x="644.17" y="165.89" width="8.06" height="28.41" fill="#ef7b82" stroke="#1a1a1a" stroke-width="0.65"/>
<line x1="648.20" y1="164.69" x2="648.20" y2="165.89" stroke="#222" stroke-width="0.6" />
<line x1="646.80" y1="164.69" x2="649.60" y2="164.69" stroke="#222" stroke-width="0.6" />
<line x1="644.97" y1="166.19" x2="651.43" y2="166.19" stroke="#222" stroke-width="0.8" />
<circle cx="646.70" cy="165.99" r="0.65" fill="#333"/>
<circle cx="648.20" cy="165.29" r="0.65" fill="#333"/>
<circle cx="649.70" cy="166.29" r="0.65" fill="#333"/>
<line x1="648.20" y1="194.30" x2="648.20" y2="196.78" stroke="#111" stroke-width="1.0" />
<rect x="654.92" y="181.11" width="8.06" height="13.19" fill="#ef3b45" stroke="#1a1a1a" stroke-width="0.65"/>
<line x1="658.95" y1="179.91" x2="658.95" y2="181.11" stroke="#222" stroke-width="0.6" />
<line x1="657.55" y1="179.91" x2="660.35" y2="179.91" stroke="#222" stroke-width="0.6" />
<line x1="655.72" y1="181.41" x2="662.18" y2="181.41" stroke="#222" stroke-width="0.8" />
<circle cx="657.45" cy="181.21" r="0.65" fill="#333"/>
<circle cx="658.95" cy="180.51" r="0.65" fill="#333"/>
<circle cx="660.45" cy="181.51" r="0.65" fill="#333"/>
<line x1="658.95" y1="194.30" x2="658.95" y2="196.78" stroke="#111" stroke-width="1.0" />
<text x="658.95" y="179.78" font-family='"Liberation Sans", sans-serif' font-weight="normal" font-size="7.06" text-anchor="middle" fill="#2a2a2a" textLength="9.15" lengthAdjust="spacing">***</text>
<rect x="665.67" y="185.22" width="8.06" height="9.08" fill="#ec1c22" stroke="#1a1a1a" stroke-width="0.65"/>
<line x1="669.70" y1="184.02" x2="669.70" y2="185.22" stroke="#222" stroke-width="0.6" />
<line x1="668.30" y1="184.02" x2="671.10" y2="184.02" stroke="#222" stroke-width="0.6" />
<line x1="666.47" y1="185.52" x2="672.93" y2="185.52" stroke="#222" stroke-width="0.8" />
<circle cx="668.20" cy="185.32" r="0.65" fill="#333"/>
<circle cx="669.70" cy="184.62" r="0.65" fill="#333"/>
<circle cx="671.20" cy="185.62" r="0.65" fill="#333"/>
<line x1="669.70" y1="194.30" x2="669.70" y2="196.78" stroke="#111" stroke-width="1.0" />
<text x="669.70" y="183.89" font-family='"Liberation Sans", sans-serif' font-weight="normal" font-size="7.06" text-anchor="middle" fill="#2a2a2a" textLength="9.15" lengthAdjust="spacing">***</text>
<text class="s" transform="translate(584.80,203.10) scale(0.8696,1)" font-family='"Liberation Serif", serif' font-weight="bold" font-size="7.90" text-anchor="middle" fill="#111" >DHA</text>
<text class="s" transform="translate(584.80,213.40) scale(0.8696,1)" font-family='"Liberation Serif", serif' font-weight="bold" font-size="7.90" text-anchor="middle" fill="#111" >copanlisib</text>
<text x="605.20" y="202.80" font-family='"Liberation Sans", sans-serif' font-weight="normal" font-size="5.34" text-anchor="middle" fill="#222" >-</text>
<text x="615.95" y="202.80" font-family='"Liberation Sans", sans-serif' font-weight="normal" font-size="5.34" text-anchor="middle" fill="#222" >+</text>
<text x="626.70" y="202.80" font-family='"Liberation Sans", sans-serif' font-weight="normal" font-size="5.34" text-anchor="middle" fill="#222" >+</text>
<text x="637.45" y="202.80" font-family='"Liberation Sans", sans-serif' font-weight="normal" font-size="5.34" text-anchor="middle" fill="#222" >+</text>
<text x="648.20" y="202.80" font-family='"Liberation Sans", sans-serif' font-weight="normal" font-size="5.34" text-anchor="middle" fill="#222" >+</text>
<text x="658.95" y="202.80" font-family='"Liberation Sans", sans-serif' font-weight="normal" font-size="5.34" text-anchor="middle" fill="#222" >+</text>
<text x="669.70" y="202.80" font-family='"Liberation Sans", sans-serif' font-weight="normal" font-size="5.34" text-anchor="middle" fill="#222" >+</text>
<text x="605.20" y="213.50" font-family='"Liberation Sans", sans-serif' font-weight="normal" font-size="5.34" text-anchor="middle" fill="#222" >-</text>
<text x="615.95" y="213.50" font-family='"Liberation Sans", sans-serif' font-weight="normal" font-size="5.34" text-anchor="middle" fill="#222" >-</text>
<g transform="translate(630.51,210.60) rotate(-45)">
<text class="s" transform="translate(0.00,0.00) scale(0.9434,1)" font-family='"Liberation Serif", serif' font-weight="bold" font-size="5.55" text-anchor="end" fill="#1a1a1a" >23.6 nM</text>
</g>
<g transform="translate(641.64,210.60) rotate(-45)">
<text class="s" transform="translate(0.00,0.00) scale(0.9434,1)" font-family='"Liberation Serif", serif' font-weight="bold" font-size="5.55" text-anchor="end" fill="#1a1a1a" >47.3 nM</text>
</g>
<g transform="translate(652.77,210.60) rotate(-45)">
<text class="s" transform="translate(0.00,0.00) scale(0.9434,1)" font-family='"Liberation Serif", serif' font-weight="bold" font-size="5.55" text-anchor="end" fill="#1a1a1a" >94.5 nM</text>
</g>
<g transform="translate(663.89,210.60) rotate(-45)">
<text class="s" transform="translate(0.00,0.00) scale(0.9434,1)" font-family='"Liberation Serif", serif' font-weight="bold" font-size="5.55" text-anchor="end" fill="#1a1a1a" >189.0 nM</text>
</g>
<g transform="translate(675.02,210.60) rotate(-45)">
<text class="s" transform="translate(0.00,0.00) scale(0.9434,1)" font-family='"Liberation Serif", serif' font-weight="bold" font-size="5.55" text-anchor="end" fill="#1a1a1a" >378.0 nM</text>
</g>
<g transform="translate(22.00,278.30) rotate(-90)">
<text class="s" transform="translate(0.00,0.00) scale(0.9259,1)" font-family='"Liberation Serif", serif' font-weight="bold" font-size="8.50" text-anchor="middle" fill="#111" >The relative survival rate</text>
<text class="s" transform="translate(0.00,9.14) scale(0.9259,1)" font-family='"Liberation Serif", serif' font-weight="bold" font-size="8.50" text-anchor="middle" fill="#111" >(%)</text>
</g>
<line x1="49.90" y1="237.80" x2="49.90" y2="320.95" stroke="#111" stroke-width="1.1" />
<line x1="46.16" y1="320.40" x2="133.86" y2="320.40" stroke="#111" stroke-width="1.1" />
<line x1="46.16" y1="320.40" x2="49.90" y2="320.40" stroke="#111" stroke-width="1.0" />
<text x="45.67" y="322.66" font-family='"Liberation Sans", sans-serif' font-weight="bold" font-size="6.59" text-anchor="end" fill="#000" textLength="3.54" lengthAdjust="spacingAndGlyphs">0</text>
<line x1="46.16" y1="292.87" x2="49.90" y2="292.87" stroke="#111" stroke-width="1.0" />
<text x="45.67" y="295.13" font-family='"Liberation Sans", sans-serif' font-weight="bold" font-size="6.59" text-anchor="end" fill="#000" textLength="7.08" lengthAdjust="spacingAndGlyphs">50</text>
<line x1="46.16" y1="265.33" x2="49.90" y2="265.33" stroke="#111" stroke-width="1.0" />
<text x="45.67" y="267.59" font-family='"Liberation Sans", sans-serif' font-weight="bold" font-size="6.59" text-anchor="end" fill="#000" textLength="10.62" lengthAdjust="spacingAndGlyphs">100</text>
<line x1="46.16" y1="237.80" x2="49.90" y2="237.80" stroke="#111" stroke-width="1.0" />
<text x="45.67" y="240.06" font-family='"Liberation Sans", sans-serif' font-weight="bold" font-size="6.59" text-anchor="end" fill="#000" textLength="10.62" lengthAdjust="spacingAndGlyphs">150</text>
<rect x="54.16" y="265.33" width="8.27" height="55.07" fill="#ffffff" stroke="#1a1a1a" stroke-width="0.65"/>
<line x1="58.30" y1="262.33" x2="58.30" y2="265.33" stroke="#222" stroke-width="0.6" />
<line x1="56.90" y1="262.33" x2="59.70" y2="262.33" stroke="#222" stroke-width="0.6" />
<line x1="54.96" y1="265.63" x2="61.64" y2="265.63" stroke="#222" stroke-width="0.8" />
<circle cx="56.80" cy="265.43" r="0.65" fill="#333"/>
<circle cx="58.30" cy="264.73" r="0.65" fill="#333"/>
<circle cx="59.80" cy="265.73" r="0.65" fill="#333"/>
<line x1="58.30" y1="320.40" x2="58.30" y2="322.96" stroke="#111" stroke-width="1.0" />
<rect x="65.19" y="292.92" width="8.27" height="27.48" fill="#000000" stroke="#1a1a1a" stroke-width="0.65"/>
<line x1="69.33" y1="291.72" x2="69.33" y2="292.92" stroke="#222" stroke-width="0.6" />
<line x1="67.93" y1="291.72" x2="70.73" y2="291.72" stroke="#222" stroke-width="0.6" />
<line x1="65.99" y1="293.22" x2="72.67" y2="293.22" stroke="#222" stroke-width="0.8" />
<circle cx="67.83" cy="293.02" r="0.65" fill="#333"/>
<circle cx="69.33" cy="292.32" r="0.65" fill="#333"/>
<circle cx="70.83" cy="293.32" r="0.65" fill="#333"/>
<line x1="69.33" y1="320.40" x2="69.33" y2="322.96" stroke="#111" stroke-width="1.0" />
<rect x="76.22" y="296.34" width="8.27" height="24.06" fill="#f7dcdf" stroke="#1a1a1a" stroke-width="0.65"/>
<line x1="80.36" y1="293.34" x2="80.36" y2="296.34" stroke="#222" stroke-width="0.6" />
<line x1="78.96" y1="293.34" x2="81.76" y2="293.34" stroke="#222" stroke-width="0.6" />
<line x1="77.02" y1="296.64" x2="83.70" y2="296.64" stroke="#222" stroke-width="0.8" />
<circle cx="78.86" cy="296.44" r="0.65" fill="#333"/>
<circle cx="80.36" cy="295.74" r="0.65" fill="#333"/>
<circle cx="81.86" cy="296.74" r="0.65" fill="#333"/>
<line x1="80.36" y1="320.40" x2="80.36" y2="322.96" stroke="#111" stroke-width="1.0" />
<text x="80.36" y="293.16" font-family='"Liberation Sans", sans-serif' font-weight="normal" font-size="7.28" text-anchor="middle" fill="#2a2a2a" textLength="6.29" lengthAdjust="spacing">**</text>
<rect x="87.25" y="305.42" width="8.27" height="14.98" fill="#f2a2a9" stroke="#1a1a1a" stroke-width="0.65"/>
<line x1="91.39" y1="304.22" x2="91.39" y2="305.42" stroke="#222" stroke-width="0.6" />
<line x1="89.99" y1="304.22" x2="92.79" y2="304.22" stroke="#222" stroke-width="0.6" />
<line x1="88.05" y1="305.72" x2="94.73" y2="305.72" stroke="#222" stroke-width="0.8" />
<circle cx="89.89" cy="305.52" r="0.65" fill="#333"/>
<circle cx="91.39" cy="304.82" r="0.65" fill="#333"/>
<circle cx="92.89" cy="305.82" r="0.65" fill="#333"/>
<line x1="91.39" y1="320.40" x2="91.39" y2="322.96" stroke="#111" stroke-width="1.0" />
<text x="91.39" y="304.05" font-family='"Liberation Sans", sans-serif' font-weight="normal" font-size="7.28" text-anchor="middle" fill="#2a2a2a" textLength="9.44" lengthAdjust="spacing">***</text>
<rect x="98.28" y="306.41" width="8.27" height="13.99" fill="#ef7b82" stroke="#1a1a1a" stroke-width="0.65"/>
<line x1="102.42" y1="305.21" x2="102.42" y2="306.41" stroke="#222" stroke-width="0.6" />
<line x1="101.02" y1="305.21" x2="103.82" y2="305.21" stroke="#222" stroke-width="0.6" />
<line x1="99.08" y1="306.71" x2="105.76" y2="306.71" stroke="#222" stroke-width="0.8" />
<circle cx="100.92" cy="306.51" r="0.65" fill="#333"/>
<circle cx="102.42" cy="305.81" r="0.65" fill="#333"/>
<circle cx="103.92" cy="306.81" r="0.65" fill="#333"/>
<line x1="102.42" y1="320.40" x2="102.42" y2="322.96" stroke="#111" stroke-width="1.0" />
<text x="102.42" y="305.04" font-family='"Liberation Sans", sans-serif' font-weight="normal" font-size="7.28" text-anchor="middle" fill="#2a2a2a" textLength="9.44" lengthAdjust="spacing">***</text>
<rect x="109.31" y="312.42" width="8.27" height="7.98" fill="#ef3b45" stroke="#1a1a1a" stroke-width="0.65"/>
<line x1="113.45" y1="311.22" x2="113.45" y2="312.42" stroke="#222" stroke-width="0.6" />
<line x1="112.05" y1="311.22" x2="114.85" y2="311.22" stroke="#222" stroke-width="0.6" />
<line x1="110.11" y1="312.72" x2="116.79" y2="312.72" stroke="#222" stroke-width="0.8" />
<circle cx="111.95" cy="312.52" r="0.65" fill="#333"/>
<circle cx="113.45" cy="311.82" r="0.65" fill="#333"/>
<circle cx="114.95" cy="312.82" r="0.65" fill="#333"/>
<line x1="113.45" y1="320.40" x2="113.45" y2="322.96" stroke="#111" stroke-width="1.0" />
<text x="113.45" y="311.04" font-family='"Liberation Sans", sans-serif' font-weight="normal" font-size="7.28" text-anchor="middle" fill="#2a2a2a" textLength="9.44" lengthAdjust="spacing">***</text>
<rect x="120.34" y="318.42" width="8.27" height="1.98" fill="#ec1c22" stroke="#1a1a1a" stroke-width="0.65"/>
<line x1="124.48" y1="317.22" x2="124.48" y2="318.42" stroke="#222" stroke-width="0.6" />
<line x1="123.08" y1="317.22" x2="125.88" y2="317.22" stroke="#222" stroke-width="0.6" />
<line x1="121.14" y1="318.72" x2="127.82" y2="318.72" stroke="#222" stroke-width="0.8" />
<circle cx="122.98" cy="318.52" r="0.65" fill="#333"/>
<circle cx="124.48" cy="317.82" r="0.65" fill="#333"/>
<circle cx="125.98" cy="318.82" r="0.65" fill="#333"/>
<line x1="124.48" y1="320.40" x2="124.48" y2="322.96" stroke="#111" stroke-width="1.0" />
<text x="124.48" y="317.04" font-family='"Liberation Sans", sans-serif' font-weight="normal" font-size="7.28" text-anchor="middle" fill="#2a2a2a" textLength="9.44" lengthAdjust="spacing">***</text>
<text class="s" transform="translate(38.20,329.70) scale(0.8696,1)" font-family='"Liberation Serif", serif' font-weight="bold" font-size="8.14" text-anchor="middle" fill="#111" >idelalisib</text>
<text class="s" transform="translate(38.20,340.60) scale(0.8696,1)" font-family='"Liberation Serif", serif' font-weight="bold" font-size="8.14" text-anchor="middle" fill="#111" >DHA</text>
<text x="58.30" y="330.50" font-family='"Liberation Sans", sans-serif' font-weight="normal" font-size="5.51" text-anchor="middle" fill="#222" >-</text>
<text x="69.33" y="330.50" font-family='"Liberation Sans", sans-serif' font-weight="normal" font-size="5.51" text-anchor="middle" fill="#222" >+</text>
<text x="80.36" y="330.50" font-family='"Liberation Sans", sans-serif' font-weight="normal" font-size="5.51" text-anchor="middle" fill="#222" >+</text>
<text x="91.39" y="330.50" font-family='"Liberation Sans", sans-serif' font-weight="normal" font-size="5.51" text-anchor="middle" fill="#222" >+</text>
<text x="102.42" y="330.50" font-family='"Liberation Sans", sans-serif' font-weight="normal" font-size="5.51" text-anchor="middle" fill="#222" >+</text>
<text x="113.45" y="330.50" font-family='"Liberation Sans", sans-serif' font-weight="normal" font-size="5.51" text-anchor="middle" fill="#222" >+</text>
<text x="124.48" y="330.50" font-family='"Liberation Sans", sans-serif' font-weight="normal" font-size="5.51" text-anchor="middle" fill="#222" >+</text>
<text x="58.30" y="340.50" font-family='"Liberation Sans", sans-serif' font-weight="normal" font-size="5.51" text-anchor="middle" fill="#222" >-</text>
<text x="69.33" y="340.50" font-family='"Liberation Sans", sans-serif' font-weight="normal" font-size="5.51" text-anchor="middle" fill="#222" >-</text>
<g transform="translate(85.29,337.50) rotate(-45)">
<text class="s" transform="translate(0.00,0.00) scale(0.9434,1)" font-family='"Liberation Serif", serif' font-weight="bold" font-size="5.73" text-anchor="end" fill="#1a1a1a" >1.25 nM</text>
</g>
<g transform="translate(96.80,337.50) rotate(-45)">
<text class="s" transform="translate(0.00,0.00) scale(0.9434,1)" font-family='"Liberation Serif", serif' font-weight="bold" font-size="5.73" text-anchor="end" fill="#1a1a1a" >2.50 nM</text>
</g>
<g transform="translate(108.30,337.50) rotate(-45)">
<text class="s" transform="translate(0.00,0.00) scale(0.9434,1)" font-family='"Liberation Serif", serif' font-weight="bold" font-size="5.73" text-anchor="end" fill="#1a1a1a" >5.00 nM</text>
</g>
<g transform="translate(119.81,337.50) rotate(-45)">
<text class="s" transform="translate(0.00,0.00) scale(0.9434,1)" font-family='"Liberation Serif", serif' font-weight="bold" font-size="5.73" text-anchor="end" fill="#1a1a1a" >10.00 nM</text>
</g>
<g transform="translate(131.31,337.50) rotate(-45)">
<text class="s" transform="translate(0.00,0.00) scale(0.9434,1)" font-family='"Liberation Serif", serif' font-weight="bold" font-size="5.73" text-anchor="end" fill="#1a1a1a" >20.00 nM</text>
</g>
<g transform="translate(162.70,277.45) rotate(-90)">
<text class="s" transform="translate(0.00,0.00) scale(0.9259,1)" font-family='"Liberation Serif", serif' font-weight="bold" font-size="8.42" text-anchor="middle" fill="#111" >The relative survival rate</text>
<text class="s" transform="translate(0.00,9.07) scale(0.9259,1)" font-family='"Liberation Serif", serif' font-weight="bold" font-size="8.42" text-anchor="middle" fill="#111" >(%)</text>
</g>
<line x1="189.00" y1="237.30" x2="189.00" y2="319.75" stroke="#111" stroke-width="1.1" />
<line x1="185.29" y1="319.20" x2="272.97" y2="319.20" stroke="#111" stroke-width="1.1" />
<line x1="185.29" y1="319.20" x2="189.00" y2="319.20" stroke="#111" stroke-width="1.0" />
<text x="184.81" y="321.44" font-family='"Liberation Sans", sans-serif' font-weight="bold" font-size="6.53" text-anchor="end" fill="#000" textLength="3.51" lengthAdjust="spacingAndGlyphs">0</text>
<line x1="185.29" y1="291.90" x2="189.00" y2="291.90" stroke="#111" stroke-width="1.0" />
<text x="184.81" y="294.14" font-family='"Liberation Sans", sans-serif' font-weight="bold" font-size="6.53" text-anchor="end" fill="#000" textLength="7.02" lengthAdjust="spacingAndGlyphs">50</text>
<line x1="185.29" y1="264.60" x2="189.00" y2="264.60" stroke="#111" stroke-width="1.0" />
<text x="184.81" y="266.84" font-family='"Liberation Sans", sans-serif' font-weight="bold" font-size="6.53" text-anchor="end" fill="#000" textLength="10.53" lengthAdjust="spacingAndGlyphs">100</text>
<line x1="185.29" y1="237.30" x2="189.00" y2="237.30" stroke="#111" stroke-width="1.0" />
<text x="184.81" y="239.54" font-family='"Liberation Sans", sans-serif' font-weight="bold" font-size="6.53" text-anchor="end" fill="#000" textLength="10.53" lengthAdjust="spacingAndGlyphs">150</text>
<rect x="194.21" y="264.60" width="8.18" height="54.60" fill="#ffffff" stroke="#1a1a1a" stroke-width="0.65"/>
<line x1="198.30" y1="261.60" x2="198.30" y2="264.60" stroke="#222" stroke-width="0.6" />
<line x1="196.90" y1="261.60" x2="199.70" y2="261.60" stroke="#222" stroke-width="0.6" />
<line x1="195.01" y1="264.90" x2="201.59" y2="264.90" stroke="#222" stroke-width="0.8" />
<circle cx="196.80" cy="264.70" r="0.65" fill="#333"/>
<circle cx="198.30" cy="264.00" r="0.65" fill="#333"/>
<circle cx="199.80" cy="265.00" r="0.65" fill="#333"/>
<line x1="198.30" y1="319.20" x2="198.30" y2="321.74" stroke="#111" stroke-width="1.0" />
<rect x="205.11" y="294.52" width="8.18" height="24.68" fill="#000000" stroke="#1a1a1a" stroke-width="0.65"/>
<line x1="209.20" y1="293.32" x2="209.20" y2="294.52" stroke="#222" stroke-width="0.6" />
<line x1="207.80" y1="293.32" x2="210.60" y2="293.32" stroke="#222" stroke-width="0.6" />
<line x1="205.91" y1="294.82" x2="212.49" y2="294.82" stroke="#222" stroke-width="0.8" />
<circle cx="207.70" cy="294.62" r="0.65" fill="#333"/>
<circle cx="209.20" cy="293.92" r="0.65" fill="#333"/>
<circle cx="210.70" cy="294.92" r="0.65" fill="#333"/>
<line x1="209.20" y1="319.20" x2="209.20" y2="321.74" stroke="#111" stroke-width="1.0" />
<rect x="216.01" y="295.29" width="8.18" height="23.91" fill="#f7dcdf" stroke="#1a1a1a" stroke-width="0.65"/>
<line x1="220.10" y1="294.09" x2="220.10" y2="295.29" stroke="#222" stroke-width="0.6" />
<line x1="218.70" y1="294.09" x2="221.50" y2="294.09" stroke="#222" stroke-width="0.6" />
<line x1="216.81" y1="295.59" x2="223.39" y2="295.59" stroke="#222" stroke-width="0.8" />
<circle cx="218.60" cy="295.39" r="0.65" fill="#333"/>
<circle cx="220.10" cy="294.69" r="0.65" fill="#333"/>
<circle cx="221.60" cy="295.69" r="0.65" fill="#333"/>
<line x1="220.10" y1="319.20" x2="220.10" y2="321.74" stroke="#111" stroke-width="1.0" />
<rect x="226.91" y="303.48" width="8.18" height="15.72" fill="#f2a2a9" stroke="#1a1a1a" stroke-width="0.65"/>
<line x1="231.00" y1="302.28" x2="231.00" y2="303.48" stroke="#222" stroke-width="0.6" />
<line x1="229.60" y1="302.28" x2="232.40" y2="302.28" stroke="#222" stroke-width="0.6" />
<line x1="227.71" y1="303.78" x2="234.29" y2="303.78" stroke="#222" stroke-width="0.8" />
<circle cx="229.50" cy="303.58" r="0.65" fill="#333"/>
<circle cx="231.00" cy="302.88" r="0.65" fill="#333"/>
<circle cx="232.50" cy="303.88" r="0.65" fill="#333"/>
<line x1="231.00" y1="319.20" x2="231.00" y2="321.74" stroke="#111" stroke-width="1.0" />
<text x="231.00" y="302.11" font-family='"Liberation Sans", sans-serif' font-weight="normal" font-size="7.21" text-anchor="middle" fill="#2a2a2a" textLength="9.36" lengthAdjust="spacing">***</text>
<rect x="237.81" y="304.89" width="8.18" height="14.31" fill="#ef7b82" stroke="#1a1a1a" stroke-width="0.65"/>
<line x1="241.90" y1="303.69" x2="241.90" y2="304.89" stroke="#222" stroke-width="0.6" />
<line x1="240.50" y1="303.69" x2="243.30" y2="303.69" stroke="#222" stroke-width="0.6" />
<line x1="238.61" y1="305.19" x2="245.19" y2="305.19" stroke="#222" stroke-width="0.8" />
<circle cx="240.40" cy="304.99" r="0.65" fill="#333"/>
<circle cx="241.90" cy="304.29" r="0.65" fill="#333"/>
<circle cx="243.40" cy="305.29" r="0.65" fill="#333"/>
<line x1="241.90" y1="319.20" x2="241.90" y2="321.74" stroke="#111" stroke-width="1.0" />
<text x="241.90" y="303.53" font-family='"Liberation Sans", sans-serif' font-weight="normal" font-size="7.21" text-anchor="middle" fill="#2a2a2a" textLength="9.36" lengthAdjust="spacing">***</text>
<rect x="248.71" y="310.41" width="8.18" height="8.79" fill="#ef3b45" stroke="#1a1a1a" stroke-width="0.65"/>
<line x1="252.80" y1="309.21" x2="252.80" y2="310.41" stroke="#222" stroke-width="0.6" />
<line x1="251.40" y1="309.21" x2="254.20" y2="309.21" stroke="#222" stroke-width="0.6" />
<line x1="249.51" y1="310.71" x2="256.09" y2="310.71" stroke="#222" stroke-width="0.8" />
<circle cx="251.30" cy="310.51" r="0.65" fill="#333"/>
<circle cx="252.80" cy="309.81" r="0.65" fill="#333"/>
<circle cx="254.30" cy="310.81" r="0.65" fill="#333"/>
<line x1="252.80" y1="319.20" x2="252.80" y2="321.74" stroke="#111" stroke-width="1.0" />
<text x="252.80" y="309.04" font-family='"Liberation Sans", sans-serif' font-weight="normal" font-size="7.21" text-anchor="middle" fill="#2a2a2a" textLength="9.36" lengthAdjust="spacing">***</text>
<rect x="259.61" y="315.21" width="8.18" height="3.99" fill="#ec1c22" stroke="#1a1a1a" stroke-width="0.65"/>
<line x1="263.70" y1="314.01" x2="263.70" y2="315.21" stroke="#222" stroke-width="0.6" />
<line x1="262.30" y1="314.01" x2="265.10" y2="314.01" stroke="#222" stroke-width="0.6" />
<line x1="260.41" y1="315.51" x2="266.99" y2="315.51" stroke="#222" stroke-width="0.8" />
<circle cx="262.20" cy="315.31" r="0.65" fill="#333"/>
<circle cx="263.70" cy="314.61" r="0.65" fill="#333"/>
<circle cx="265.20" cy="315.61" r="0.65" fill="#333"/>
<line x1="263.70" y1="319.20" x2="263.70" y2="321.74" stroke="#111" stroke-width="1.0" />
<text x="263.70" y="313.85" font-family='"Liberation Sans", sans-serif' font-weight="normal" font-size="7.21" text-anchor="middle" fill="#2a2a2a" textLength="9.36" lengthAdjust="spacing">***</text>
<text class="s" transform="translate(178.00,328.50) scale(0.8696,1)" font-family='"Liberation Serif", serif' font-weight="bold" font-size="8.07" text-anchor="middle" fill="#111" >umbralisib</text>
<text class="s" transform="translate(178.00,340.00) scale(0.8696,1)" font-family='"Liberation Serif", serif' font-weight="bold" font-size="8.07" text-anchor="middle" fill="#111" >DHA</text>
<text x="198.30" y="328.50" font-family='"Liberation Sans", sans-serif' font-weight="normal" font-size="5.46" text-anchor="middle" fill="#222" >-</text>
<text x="209.20" y="328.50" font-family='"Liberation Sans", sans-serif' font-weight="normal" font-size="5.46" text-anchor="middle" fill="#222" >+</text>
<text x="220.10" y="328.50" font-family='"Liberation Sans", sans-serif' font-weight="normal" font-size="5.46" text-anchor="middle" fill="#222" >+</text>
<text x="231.00" y="328.50" font-family='"Liberation Sans", sans-serif' font-weight="normal" font-size="5.46" text-anchor="middle" fill="#222" >+</text>
<text x="241.90" y="328.50" font-family='"Liberation Sans", sans-serif' font-weight="normal" font-size="5.46" text-anchor="middle" fill="#222" >+</text>
<text x="252.80" y="328.50" font-family='"Liberation Sans", sans-serif' font-weight="normal" font-size="5.46" text-anchor="middle" fill="#222" >+</text>
<text x="263.70" y="328.50" font-family='"Liberation Sans", sans-serif' font-weight="normal" font-size="5.46" text-anchor="middle" fill="#222" >+</text>
<text x="198.30" y="339.20" font-family='"Liberation Sans", sans-serif' font-weight="normal" font-size="5.46" text-anchor="middle" fill="#222" >-</text>
<text x="209.20" y="339.20" font-family='"Liberation Sans", sans-serif' font-weight="normal" font-size="5.46" text-anchor="middle" fill="#222" >-</text>
<g transform="translate(224.50,336.90) rotate(-45)">
<text class="s" transform="translate(0.00,0.00) scale(0.9434,1)" font-family='"Liberation Serif", serif' font-weight="bold" font-size="5.68" text-anchor="end" fill="#1a1a1a" >1.25 nM</text>
</g>
<g transform="translate(235.89,336.90) rotate(-45)">
<text class="s" transform="translate(0.00,0.00) scale(0.9434,1)" font-family='"Liberation Serif", serif' font-weight="bold" font-size="5.68" text-anchor="end" fill="#1a1a1a" >2.50 nM</text>
</g>
<g transform="translate(247.28,336.90) rotate(-45)">
<text class="s" transform="translate(0.00,0.00) scale(0.9434,1)" font-family='"Liberation Serif", serif' font-weight="bold" font-size="5.68" text-anchor="end" fill="#1a1a1a" >5.00 nM</text>
</g>
<g transform="translate(258.67,336.90) rotate(-45)">
<text class="s" transform="translate(0.00,0.00) scale(0.9434,1)" font-family='"Liberation Serif", serif' font-weight="bold" font-size="5.68" text-anchor="end" fill="#1a1a1a" >10.00 nM</text>
</g>
<g transform="translate(270.06,336.90) rotate(-45)">
<text class="s" transform="translate(0.00,0.00) scale(0.9434,1)" font-family='"Liberation Serif", serif' font-weight="bold" font-size="5.68" text-anchor="end" fill="#1a1a1a" >20.00 nM</text>
</g>
<g transform="translate(300.50,277.30) rotate(-90)">
<text class="s" transform="translate(0.00,0.00) scale(0.9259,1)" font-family='"Liberation Serif", serif' font-weight="bold" font-size="8.46" text-anchor="middle" fill="#111" >The relative survival rate</text>
<text class="s" transform="translate(0.00,9.10) scale(0.9259,1)" font-family='"Liberation Serif", serif' font-weight="bold" font-size="8.46" text-anchor="middle" fill="#111" >(%)</text>
</g>
<line x1="327.50" y1="237.00" x2="327.50" y2="319.75" stroke="#111" stroke-width="1.1" />
<line x1="323.78" y1="319.20" x2="411.37" y2="319.20" stroke="#111" stroke-width="1.1" />
<line x1="323.78" y1="319.20" x2="327.50" y2="319.20" stroke="#111" stroke-width="1.0" />
<text x="323.29" y="321.45" font-family='"Liberation Sans", sans-serif' font-weight="bold" font-size="6.56" text-anchor="end" fill="#000" textLength="3.52" lengthAdjust="spacingAndGlyphs">0</text>
<line x1="323.78" y1="291.80" x2="327.50" y2="291.80" stroke="#111" stroke-width="1.0" />
<text x="323.29" y="294.05" font-family='"Liberation Sans", sans-serif' font-weight="bold" font-size="6.56" text-anchor="end" fill="#000" textLength="7.05" lengthAdjust="spacingAndGlyphs">50</text>
<line x1="323.78" y1="264.40" x2="327.50" y2="264.40" stroke="#111" stroke-width="1.0" />
<text x="323.29" y="266.65" font-family='"Liberation Sans", sans-serif' font-weight="bold" font-size="6.56" text-anchor="end" fill="#000" textLength="10.57" lengthAdjust="spacingAndGlyphs">100</text>
<line x1="323.78" y1="237.00" x2="327.50" y2="237.00" stroke="#111" stroke-width="1.0" />
<text x="323.29" y="239.25" font-family='"Liberation Sans", sans-serif' font-weight="bold" font-size="6.56" text-anchor="end" fill="#000" textLength="10.57" lengthAdjust="spacingAndGlyphs">150</text>
<rect x="332.61" y="264.40" width="8.18" height="54.80" fill="#ffffff" stroke="#1a1a1a" stroke-width="0.65"/>
<line x1="336.70" y1="261.40" x2="336.70" y2="264.40" stroke="#222" stroke-width="0.6" />
<line x1="335.30" y1="261.40" x2="338.10" y2="261.40" stroke="#222" stroke-width="0.6" />
<line x1="333.41" y1="264.70" x2="339.99" y2="264.70" stroke="#222" stroke-width="0.8" />
<circle cx="335.20" cy="264.50" r="0.65" fill="#333"/>
<circle cx="336.70" cy="263.80" r="0.65" fill="#333"/>
<circle cx="338.20" cy="264.80" r="0.65" fill="#333"/>
<line x1="336.70" y1="319.20" x2="336.70" y2="321.74" stroke="#111" stroke-width="1.0" />
<rect x="343.51" y="291.91" width="8.18" height="27.29" fill="#000000" stroke="#1a1a1a" stroke-width="0.65"/>
<line x1="347.60" y1="290.71" x2="347.60" y2="291.91" stroke="#222" stroke-width="0.6" />
<line x1="346.20" y1="290.71" x2="349.00" y2="290.71" stroke="#222" stroke-width="0.6" />
<line x1="344.31" y1="292.21" x2="350.89" y2="292.21" stroke="#222" stroke-width="0.8" />
<circle cx="346.10" cy="292.01" r="0.65" fill="#333"/>
<circle cx="347.60" cy="291.31" r="0.65" fill="#333"/>
<circle cx="349.10" cy="292.31" r="0.65" fill="#333"/>
<line x1="347.60" y1="319.20" x2="347.60" y2="321.74" stroke="#111" stroke-width="1.0" />
<rect x="354.41" y="293.28" width="8.18" height="25.92" fill="#f7dcdf" stroke="#1a1a1a" stroke-width="0.65"/>
<line x1="358.50" y1="292.08" x2="358.50" y2="293.28" stroke="#222" stroke-width="0.6" />
<line x1="357.10" y1="292.08" x2="359.90" y2="292.08" stroke="#222" stroke-width="0.6" />
<line x1="355.21" y1="293.58" x2="361.79" y2="293.58" stroke="#222" stroke-width="0.8" />
<circle cx="357.00" cy="293.38" r="0.65" fill="#333"/>
<circle cx="358.50" cy="292.68" r="0.65" fill="#333"/>
<circle cx="360.00" cy="293.68" r="0.65" fill="#333"/>
<line x1="358.50" y1="319.20" x2="358.50" y2="321.74" stroke="#111" stroke-width="1.0" />
<rect x="365.31" y="302.49" width="8.18" height="16.71" fill="#f2a2a9" stroke="#1a1a1a" stroke-width="0.65"/>
<line x1="369.40" y1="301.29" x2="369.40" y2="302.49" stroke="#222" stroke-width="0.6" />
<line x1="368.00" y1="301.29" x2="370.80" y2="301.29" stroke="#222" stroke-width="0.6" />
<line x1="366.11" y1="302.79" x2="372.69" y2="302.79" stroke="#222" stroke-width="0.8" />
<circle cx="367.90" cy="302.59" r="0.65" fill="#333"/>
<circle cx="369.40" cy="301.89" r="0.65" fill="#333"/>
<circle cx="370.90" cy="302.89" r="0.65" fill="#333"/>
<line x1="369.40" y1="319.20" x2="369.40" y2="321.74" stroke="#111" stroke-width="1.0" />
<text x="369.40" y="301.12" font-family='"Liberation Sans", sans-serif' font-weight="normal" font-size="7.24" text-anchor="middle" fill="#2a2a2a" textLength="9.39" lengthAdjust="spacing">***</text>
<rect x="376.21" y="309.23" width="8.18" height="9.97" fill="#ef7b82" stroke="#1a1a1a" stroke-width="0.65"/>
<line x1="380.30" y1="308.03" x2="380.30" y2="309.23" stroke="#222" stroke-width="0.6" />
<line x1="378.90" y1="308.03" x2="381.70" y2="308.03" stroke="#222" stroke-width="0.6" />
<line x1="377.01" y1="309.53" x2="383.59" y2="309.53" stroke="#222" stroke-width="0.8" />
<circle cx="378.80" cy="309.33" r="0.65" fill="#333"/>
<circle cx="380.30" cy="308.63" r="0.65" fill="#333"/>
<circle cx="381.80" cy="309.63" r="0.65" fill="#333"/>
<line x1="380.30" y1="319.20" x2="380.30" y2="321.74" stroke="#111" stroke-width="1.0" />
<text x="380.30" y="307.86" font-family='"Liberation Sans", sans-serif' font-weight="normal" font-size="7.24" text-anchor="middle" fill="#2a2a2a" textLength="9.39" lengthAdjust="spacing">***</text>
<rect x="387.11" y="310.21" width="8.18" height="8.99" fill="#ef3b45" stroke="#1a1a1a" stroke-width="0.65"/>
<line x1="391.20" y1="309.01" x2="391.20" y2="310.21" stroke="#222" stroke-width="0.6" />
<line x1="389.80" y1="309.01" x2="392.60" y2="309.01" stroke="#222" stroke-width="0.6" />
<line x1="387.91" y1="310.51" x2="394.49" y2="310.51" stroke="#222" stroke-width="0.8" />
<circle cx="389.70" cy="310.31" r="0.65" fill="#333"/>
<circle cx="391.20" cy="309.61" r="0.65" fill="#333"/>
<circle cx="392.70" cy="310.61" r="0.65" fill="#333"/>
<line x1="391.20" y1="319.20" x2="391.20" y2="321.74" stroke="#111" stroke-width="1.0" />
<text x="391.20" y="308.84" font-family='"Liberation Sans", sans-serif' font-weight="normal" font-size="7.24" text-anchor="middle" fill="#2a2a2a" textLength="9.39" lengthAdjust="spacing">***</text>
<rect x="398.01" y="311.42" width="8.18" height="7.78" fill="#ec1c22" stroke="#1a1a1a" stroke-width="0.65"/>
<line x1="402.10" y1="310.22" x2="402.10" y2="311.42" stroke="#222" stroke-width="0.6" />
<line x1="400.70" y1="310.22" x2="403.50" y2="310.22" stroke="#222" stroke-width="0.6" />
<line x1="398.81" y1="311.72" x2="405.39" y2="311.72" stroke="#222" stroke-width="0.8" />
<circle cx="400.60" cy="311.52" r="0.65" fill="#333"/>
<circle cx="402.10" cy="310.82" r="0.65" fill="#333"/>
<circle cx="403.60" cy="311.82" r="0.65" fill="#333"/>
<line x1="402.10" y1="319.20" x2="402.10" y2="321.74" stroke="#111" stroke-width="1.0" />
<text x="402.10" y="310.05" font-family='"Liberation Sans", sans-serif' font-weight="normal" font-size="7.24" text-anchor="middle" fill="#2a2a2a" textLength="9.39" lengthAdjust="spacing">***</text>
<text class="s" transform="translate(316.10,328.50) scale(0.8696,1)" font-family='"Liberation Serif", serif' font-weight="bold" font-size="8.11" text-anchor="middle" fill="#111" >taselisib</text>
<text class="s" transform="translate(316.10,340.00) scale(0.8696,1)" font-family='"Liberation Serif", serif' font-weight="bold" font-size="8.11" text-anchor="middle" fill="#111" >DHA</text>
<text x="336.70" y="328.90" font-family='"Liberation Sans", sans-serif' font-weight="normal" font-size="5.48" text-anchor="middle" fill="#222" >-</text>
<text x="347.60" y="328.90" font-family='"Liberation Sans", sans-serif' font-weight="normal" font-size="5.48" text-anchor="middle" fill="#222" >+</text>
<text x="358.50" y="328.90" font-family='"Liberation Sans", sans-serif' font-weight="normal" font-size="5.48" text-anchor="middle" fill="#222" >+</text>
<text x="369.40" y="328.90" font-family='"Liberation Sans", sans-serif' font-weight="normal" font-size="5.48" text-anchor="middle" fill="#222" >+</text>
<text x="380.30" y="328.90" font-family='"Liberation Sans", sans-serif' font-weight="normal" font-size="5.48" text-anchor="middle" fill="#222" >+</text>
<text x="391.20" y="328.90" font-family='"Liberation Sans", sans-serif' font-weight="normal" font-size="5.48" text-anchor="middle" fill="#222" >+</text>
<text x="402.10" y="328.90" font-family='"Liberation Sans", sans-serif' font-weight="normal" font-size="5.48" text-anchor="middle" fill="#222" >+</text>
<text x="336.70" y="339.20" font-family='"Liberation Sans", sans-serif' font-weight="normal" font-size="5.48" text-anchor="middle" fill="#222" >-</text>
<text x="347.60" y="339.20" font-family='"Liberation Sans", sans-serif' font-weight="normal" font-size="5.48" text-anchor="middle" fill="#222" >-</text>
<g transform="translate(362.41,336.20) rotate(-45)">
<text class="s" transform="translate(0.00,0.00) scale(0.9434,1)" font-family='"Liberation Serif", serif' font-weight="bold" font-size="5.70" text-anchor="end" fill="#1a1a1a" >1.25 nM</text>
</g>
<g transform="translate(373.75,336.20) rotate(-45)">
<text class="s" transform="translate(0.00,0.00) scale(0.9434,1)" font-family='"Liberation Serif", serif' font-weight="bold" font-size="5.70" text-anchor="end" fill="#1a1a1a" >2.50 nM</text>
</g>
<g transform="translate(385.09,336.20) rotate(-45)">
<text class="s" transform="translate(0.00,0.00) scale(0.9434,1)" font-family='"Liberation Serif", serif' font-weight="bold" font-size="5.70" text-anchor="end" fill="#1a1a1a" >5.00 nM</text>
</g>
<g transform="translate(396.42,336.20) rotate(-45)">
<text class="s" transform="translate(0.00,0.00) scale(0.9434,1)" font-family='"Liberation Serif", serif' font-weight="bold" font-size="5.70" text-anchor="end" fill="#1a1a1a" >10.00 nM</text>
</g>
<g transform="translate(407.76,336.20) rotate(-45)">
<text class="s" transform="translate(0.00,0.00) scale(0.9434,1)" font-family='"Liberation Serif", serif' font-weight="bold" font-size="5.70" text-anchor="end" fill="#1a1a1a" >20.00 nM</text>
</g>
<g transform="translate(437.00,275.70) rotate(-90)">
<text class="s" transform="translate(0.00,0.00) scale(0.9259,1)" font-family='"Liberation Serif", serif' font-weight="bold" font-size="8.64" text-anchor="middle" fill="#111" >The relative survival rate</text>
<text class="s" transform="translate(0.00,9.30) scale(0.9259,1)" font-family='"Liberation Serif", serif' font-weight="bold" font-size="8.64" text-anchor="middle" fill="#111" >(%)</text>
</g>
<line x1="464.80" y1="234.50" x2="464.80" y2="319.05" stroke="#111" stroke-width="1.1" />
<line x1="461.00" y1="318.50" x2="549.53" y2="318.50" stroke="#111" stroke-width="1.1" />
<line x1="461.00" y1="318.50" x2="464.80" y2="318.50" stroke="#111" stroke-width="1.0" />
<text x="460.50" y="320.80" font-family='"Liberation Sans", sans-serif' font-weight="bold" font-size="6.70" text-anchor="end" fill="#000" textLength="3.60" lengthAdjust="spacingAndGlyphs">0</text>
<line x1="461.00" y1="290.50" x2="464.80" y2="290.50" stroke="#111" stroke-width="1.0" />
<text x="460.50" y="292.80" font-family='"Liberation Sans", sans-serif' font-weight="bold" font-size="6.70" text-anchor="end" fill="#000" textLength="7.20" lengthAdjust="spacingAndGlyphs">50</text>
<line x1="461.00" y1="262.50" x2="464.80" y2="262.50" stroke="#111" stroke-width="1.0" />
<text x="460.50" y="264.80" font-family='"Liberation Sans", sans-serif' font-weight="bold" font-size="6.70" text-anchor="end" fill="#000" textLength="10.80" lengthAdjust="spacingAndGlyphs">100</text>
<line x1="461.00" y1="234.50" x2="464.80" y2="234.50" stroke="#111" stroke-width="1.0" />
<text x="460.50" y="236.80" font-family='"Liberation Sans", sans-serif' font-weight="bold" font-size="6.70" text-anchor="end" fill="#000" textLength="10.80" lengthAdjust="spacingAndGlyphs">150</text>
<rect x="469.34" y="262.50" width="8.32" height="56.00" fill="#ffffff" stroke="#1a1a1a" stroke-width="0.65"/>
<line x1="473.50" y1="259.50" x2="473.50" y2="262.50" stroke="#222" stroke-width="0.6" />
<line x1="472.10" y1="259.50" x2="474.90" y2="259.50" stroke="#222" stroke-width="0.6" />
<line x1="470.14" y1="262.80" x2="476.86" y2="262.80" stroke="#222" stroke-width="0.8" />
<circle cx="472.00" cy="262.60" r="0.65" fill="#333"/>
<circle cx="473.50" cy="261.90" r="0.65" fill="#333"/>
<circle cx="475.00" cy="262.90" r="0.65" fill="#333"/>
<line x1="473.50" y1="318.50" x2="473.50" y2="321.10" stroke="#111" stroke-width="1.0" />
<rect x="480.44" y="287.48" width="8.32" height="31.02" fill="#000000" stroke="#1a1a1a" stroke-width="0.65"/>
<line x1="484.60" y1="286.28" x2="484.60" y2="287.48" stroke="#222" stroke-width="0.6" />
<line x1="483.20" y1="286.28" x2="486.00" y2="286.28" stroke="#222" stroke-width="0.6" />
<line x1="481.24" y1="287.78" x2="487.96" y2="287.78" stroke="#222" stroke-width="0.8" />
<circle cx="483.10" cy="287.58" r="0.65" fill="#333"/>
<circle cx="484.60" cy="286.88" r="0.65" fill="#333"/>
<circle cx="486.10" cy="287.88" r="0.65" fill="#333"/>
<line x1="484.60" y1="318.50" x2="484.60" y2="321.10" stroke="#111" stroke-width="1.0" />
<rect x="491.54" y="287.48" width="8.32" height="31.02" fill="#f7dcdf" stroke="#1a1a1a" stroke-width="0.65"/>
<line x1="495.70" y1="286.28" x2="495.70" y2="287.48" stroke="#222" stroke-width="0.6" />
<line x1="494.30" y1="286.28" x2="497.10" y2="286.28" stroke="#222" stroke-width="0.6" />
<line x1="492.34" y1="287.78" x2="499.06" y2="287.78" stroke="#222" stroke-width="0.8" />
<circle cx="494.20" cy="287.58" r="0.65" fill="#333"/>
<circle cx="495.70" cy="286.88" r="0.65" fill="#333"/>
<circle cx="497.20" cy="287.88" r="0.65" fill="#333"/>
<line x1="495.70" y1="318.50" x2="495.70" y2="321.10" stroke="#111" stroke-width="1.0" />
<rect x="502.64" y="293.97" width="8.32" height="24.53" fill="#f2a2a9" stroke="#1a1a1a" stroke-width="0.65"/>
<line x1="506.80" y1="292.77" x2="506.80" y2="293.97" stroke="#222" stroke-width="0.6" />
<line x1="505.40" y1="292.77" x2="508.20" y2="292.77" stroke="#222" stroke-width="0.6" />
<line x1="503.44" y1="294.27" x2="510.16" y2="294.27" stroke="#222" stroke-width="0.8" />
<circle cx="505.30" cy="294.07" r="0.65" fill="#333"/>
<circle cx="506.80" cy="293.37" r="0.65" fill="#333"/>
<circle cx="508.30" cy="294.37" r="0.65" fill="#333"/>
<line x1="506.80" y1="318.50" x2="506.80" y2="321.10" stroke="#111" stroke-width="1.0" />
<text x="506.80" y="292.57" font-family='"Liberation Sans", sans-serif' font-weight="normal" font-size="7.40" text-anchor="middle" fill="#2a2a2a" textLength="9.60" lengthAdjust="spacing">***</text>
<rect x="513.74" y="299.96" width="8.32" height="18.54" fill="#ef7b82" stroke="#1a1a1a" stroke-width="0.65"/>
<line x1="517.90" y1="298.76" x2="517.90" y2="299.96" stroke="#222" stroke-width="0.6" />
<line x1="516.50" y1="298.76" x2="519.30" y2="298.76" stroke="#222" stroke-width="0.6" />
<line x1="514.54" y1="300.26" x2="521.26" y2="300.26" stroke="#222" stroke-width="0.8" />
<circle cx="516.40" cy="300.06" r="0.65" fill="#333"/>
<circle cx="517.90" cy="299.36" r="0.65" fill="#333"/>
<circle cx="519.40" cy="300.36" r="0.65" fill="#333"/>
<line x1="517.90" y1="318.50" x2="517.90" y2="321.10" stroke="#111" stroke-width="1.0" />
<text x="517.90" y="298.56" font-family='"Liberation Sans", sans-serif' font-weight="normal" font-size="7.40" text-anchor="middle" fill="#2a2a2a" textLength="9.60" lengthAdjust="spacing">***</text>
<rect x="524.84" y="304.39" width="8.32" height="14.11" fill="#ef3b45" stroke="#1a1a1a" stroke-width="0.65"/>
<line x1="529.00" y1="303.19" x2="529.00" y2="304.39" stroke="#222" stroke-width="0.6" />
<line x1="527.60" y1="303.19" x2="530.40" y2="303.19" stroke="#222" stroke-width="0.6" />
<line x1="525.64" y1="304.69" x2="532.36" y2="304.69" stroke="#222" stroke-width="0.8" />
<circle cx="527.50" cy="304.49" r="0.65" fill="#333"/>
<circle cx="529.00" cy="303.79" r="0.65" fill="#333"/>
<circle cx="530.50" cy="304.79" r="0.65" fill="#333"/>
<line x1="529.00" y1="318.50" x2="529.00" y2="321.10" stroke="#111" stroke-width="1.0" />
<text x="529.00" y="302.99" font-family='"Liberation Sans", sans-serif' font-weight="normal" font-size="7.40" text-anchor="middle" fill="#2a2a2a" textLength="9.60" lengthAdjust="spacing">***</text>
<rect x="535.94" y="314.47" width="8.32" height="4.03" fill="#ec1c22" stroke="#1a1a1a" stroke-width="0.65"/>
<line x1="540.10" y1="313.27" x2="540.10" y2="314.47" stroke="#222" stroke-width="0.6" />
<line x1="538.70" y1="313.27" x2="541.50" y2="313.27" stroke="#222" stroke-width="0.6" />
<line x1="536.74" y1="314.77" x2="543.46" y2="314.77" stroke="#222" stroke-width="0.8" />
<circle cx="538.60" cy="314.57" r="0.65" fill="#333"/>
<circle cx="540.10" cy="313.87" r="0.65" fill="#333"/>
<circle cx="541.60" cy="314.87" r="0.65" fill="#333"/>
<line x1="540.10" y1="318.50" x2="540.10" y2="321.10" stroke="#111" stroke-width="1.0" />
<text x="540.10" y="313.07" font-family='"Liberation Sans", sans-serif' font-weight="normal" font-size="7.40" text-anchor="middle" fill="#2a2a2a" textLength="9.60" lengthAdjust="spacing">***</text>
<text class="s" transform="translate(451.90,327.80) scale(0.8696,1)" font-family='"Liberation Serif", serif' font-weight="bold" font-size="8.28" text-anchor="middle" fill="#111" >AZD6482</text>
<text class="s" transform="translate(451.90,338.70) scale(0.8696,1)" font-family='"Liberation Serif", serif' font-weight="bold" font-size="8.28" text-anchor="middle" fill="#111" >DHA</text>
<text x="473.50" y="327.50" font-family='"Liberation Sans", sans-serif' font-weight="normal" font-size="5.60" text-anchor="middle" fill="#222" >-</text>
<text x="484.60" y="327.50" font-family='"Liberation Sans", sans-serif' font-weight="normal" font-size="5.60" text-anchor="middle" fill="#222" >+</text>
<text x="495.70" y="327.50" font-family='"Liberation Sans", sans-serif' font-weight="normal" font-size="5.60" text-anchor="middle" fill="#222" >+</text>
<text x="506.80" y="327.50" font-family='"Liberation Sans", sans-serif' font-weight="normal" font-size="5.60" text-anchor="middle" fill="#222" >+</text>
<text x="517.90" y="327.50" font-family='"Liberation Sans", sans-serif' font-weight="normal" font-size="5.60" text-anchor="middle" fill="#222" >+</text>
<text x="529.00" y="327.50" font-family='"Liberation Sans", sans-serif' font-weight="normal" font-size="5.60" text-anchor="middle" fill="#222" >+</text>
<text x="540.10" y="327.50" font-family='"Liberation Sans", sans-serif' font-weight="normal" font-size="5.60" text-anchor="middle" fill="#222" >+</text>
<text x="473.50" y="337.90" font-family='"Liberation Sans", sans-serif' font-weight="normal" font-size="5.60" text-anchor="middle" fill="#222" >-</text>
<text x="484.60" y="337.90" font-family='"Liberation Sans", sans-serif' font-weight="normal" font-size="5.60" text-anchor="middle" fill="#222" >-</text>
<g transform="translate(500.20,335.60) rotate(-45)">
<text class="s" transform="translate(0.00,0.00) scale(0.9434,1)" font-family='"Liberation Serif", serif' font-weight="bold" font-size="5.83" text-anchor="end" fill="#1a1a1a" >1.25 nM</text>
</g>
<g transform="translate(511.70,335.60) rotate(-45)">
<text class="s" transform="translate(0.00,0.00) scale(0.9434,1)" font-family='"Liberation Serif", serif' font-weight="bold" font-size="5.83" text-anchor="end" fill="#1a1a1a" >2.50 nM</text>
</g>
<g transform="translate(523.20,335.60) rotate(-45)">
<text class="s" transform="translate(0.00,0.00) scale(0.9434,1)" font-family='"Liberation Serif", serif' font-weight="bold" font-size="5.83" text-anchor="end" fill="#1a1a1a" >5.00 nM</text>
</g>
<g transform="translate(534.70,335.60) rotate(-45)">
<text class="s" transform="translate(0.00,0.00) scale(0.9434,1)" font-family='"Liberation Serif", serif' font-weight="bold" font-size="5.83" text-anchor="end" fill="#1a1a1a" >10.00 nM</text>
</g>
<g transform="translate(546.20,335.60) rotate(-45)">
<text class="s" transform="translate(0.00,0.00) scale(0.9434,1)" font-family='"Liberation Serif", serif' font-weight="bold" font-size="5.83" text-anchor="end" fill="#1a1a1a" >20.00 nM</text>
</g>
<g transform="translate(566.60,275.70) rotate(-90)">
<text class="s" transform="translate(0.00,0.00) scale(0.9259,1)" font-family='"Liberation Serif", serif' font-weight="bold" font-size="8.64" text-anchor="middle" fill="#111" >The relative survival rate</text>
<text class="s" transform="translate(0.00,9.30) scale(0.9259,1)" font-family='"Liberation Serif", serif' font-weight="bold" font-size="8.64" text-anchor="middle" fill="#111" >(%)</text>
</g>
<line x1="594.70" y1="234.50" x2="594.70" y2="319.05" stroke="#111" stroke-width="1.1" />
<line x1="590.90" y1="318.50" x2="679.14" y2="318.50" stroke="#111" stroke-width="1.1" />
<line x1="590.90" y1="318.50" x2="594.70" y2="318.50" stroke="#111" stroke-width="1.0" />
<text x="590.40" y="320.80" font-family='"Liberation Sans", sans-serif' font-weight="bold" font-size="6.70" text-anchor="end" fill="#000" textLength="3.60" lengthAdjust="spacingAndGlyphs">0</text>
<line x1="590.90" y1="290.50" x2="594.70" y2="290.50" stroke="#111" stroke-width="1.0" />
<text x="590.40" y="292.80" font-family='"Liberation Sans", sans-serif' font-weight="bold" font-size="6.70" text-anchor="end" fill="#000" textLength="7.20" lengthAdjust="spacingAndGlyphs">50</text>
<line x1="590.90" y1="262.50" x2="594.70" y2="262.50" stroke="#111" stroke-width="1.0" />
<text x="590.40" y="264.80" font-family='"Liberation Sans", sans-serif' font-weight="bold" font-size="6.70" text-anchor="end" fill="#000" textLength="10.80" lengthAdjust="spacingAndGlyphs">100</text>
<line x1="590.90" y1="234.50" x2="594.70" y2="234.50" stroke="#111" stroke-width="1.0" />
<text x="590.40" y="236.80" font-family='"Liberation Sans", sans-serif' font-weight="bold" font-size="6.70" text-anchor="end" fill="#000" textLength="10.80" lengthAdjust="spacingAndGlyphs">150</text>
<rect x="598.73" y="262.50" width="8.35" height="56.00" fill="#ffffff" stroke="#1a1a1a" stroke-width="0.65"/>
<line x1="602.90" y1="259.50" x2="602.90" y2="262.50" stroke="#222" stroke-width="0.6" />
<line x1="601.50" y1="259.50" x2="604.30" y2="259.50" stroke="#222" stroke-width="0.6" />
<line x1="599.53" y1="262.80" x2="606.27" y2="262.80" stroke="#222" stroke-width="0.8" />
<circle cx="601.40" cy="262.60" r="0.65" fill="#333"/>
<circle cx="602.90" cy="261.90" r="0.65" fill="#333"/>
<circle cx="604.40" cy="262.90" r="0.65" fill="#333"/>
<line x1="602.90" y1="318.50" x2="602.90" y2="321.10" stroke="#111" stroke-width="1.0" />
<rect x="609.86" y="291.96" width="8.35" height="26.54" fill="#000000" stroke="#1a1a1a" stroke-width="0.65"/>
<line x1="614.03" y1="290.76" x2="614.03" y2="291.96" stroke="#222" stroke-width="0.6" />
<line x1="612.63" y1="290.76" x2="615.43" y2="290.76" stroke="#222" stroke-width="0.6" />
<line x1="610.66" y1="292.26" x2="617.40" y2="292.26" stroke="#222" stroke-width="0.8" />
<circle cx="612.53" cy="292.06" r="0.65" fill="#333"/>
<circle cx="614.03" cy="291.36" r="0.65" fill="#333"/>
<circle cx="615.53" cy="292.36" r="0.65" fill="#333"/>
<line x1="614.03" y1="318.50" x2="614.03" y2="321.10" stroke="#111" stroke-width="1.0" />
<rect x="620.99" y="292.35" width="8.35" height="26.15" fill="#f7dcdf" stroke="#1a1a1a" stroke-width="0.65"/>
<line x1="625.16" y1="291.15" x2="625.16" y2="292.35" stroke="#222" stroke-width="0.6" />
<line x1="623.76" y1="291.15" x2="626.56" y2="291.15" stroke="#222" stroke-width="0.6" />
<line x1="621.79" y1="292.65" x2="628.53" y2="292.65" stroke="#222" stroke-width="0.8" />
<circle cx="623.66" cy="292.45" r="0.65" fill="#333"/>
<circle cx="625.16" cy="291.75" r="0.65" fill="#333"/>
<circle cx="626.66" cy="292.75" r="0.65" fill="#333"/>
<line x1="625.16" y1="318.50" x2="625.16" y2="321.10" stroke="#111" stroke-width="1.0" />
<rect x="632.12" y="305.45" width="8.35" height="13.05" fill="#f2a2a9" stroke="#1a1a1a" stroke-width="0.65"/>
<line x1="636.29" y1="304.25" x2="636.29" y2="305.45" stroke="#222" stroke-width="0.6" />
<line x1="634.89" y1="304.25" x2="637.69" y2="304.25" stroke="#222" stroke-width="0.6" />
<line x1="632.92" y1="305.75" x2="639.66" y2="305.75" stroke="#222" stroke-width="0.8" />
<circle cx="634.79" cy="305.55" r="0.65" fill="#333"/>
<circle cx="636.29" cy="304.85" r="0.65" fill="#333"/>
<circle cx="637.79" cy="305.85" r="0.65" fill="#333"/>
<line x1="636.29" y1="318.50" x2="636.29" y2="321.10" stroke="#111" stroke-width="1.0" />
<text x="636.29" y="304.05" font-family='"Liberation Sans", sans-serif' font-weight="normal" font-size="7.40" text-anchor="middle" fill="#2a2a2a" textLength="9.60" lengthAdjust="spacing">***</text>
<rect x="643.25" y="307.86" width="8.35" height="10.64" fill="#ef7b82" stroke="#1a1a1a" stroke-width="0.65"/>
<line x1="647.42" y1="306.66" x2="647.42" y2="307.86" stroke="#222" stroke-width="0.6" />
<line x1="646.02" y1="306.66" x2="648.82" y2="306.66" stroke="#222" stroke-width="0.6" />
<line x1="644.05" y1="308.16" x2="650.79" y2="308.16" stroke="#222" stroke-width="0.8" />
<circle cx="645.92" cy="307.96" r="0.65" fill="#333"/>
<circle cx="647.42" cy="307.26" r="0.65" fill="#333"/>
<circle cx="648.92" cy="308.26" r="0.65" fill="#333"/>
<line x1="647.42" y1="318.50" x2="647.42" y2="321.10" stroke="#111" stroke-width="1.0" />
<text x="647.42" y="306.46" font-family='"Liberation Sans", sans-serif' font-weight="normal" font-size="7.40" text-anchor="middle" fill="#2a2a2a" textLength="9.60" lengthAdjust="spacing">***</text>
<rect x="654.38" y="310.88" width="8.35" height="7.62" fill="#ef3b45" stroke="#1a1a1a" stroke-width="0.65"/>
<line x1="658.55" y1="309.68" x2="658.55" y2="310.88" stroke="#222" stroke-width="0.6" />
<line x1="657.15" y1="309.68" x2="659.95" y2="309.68" stroke="#222" stroke-width="0.6" />
<line x1="655.18" y1="311.18" x2="661.92" y2="311.18" stroke="#222" stroke-width="0.8" />
<circle cx="657.05" cy="310.98" r="0.65" fill="#333"/>
<circle cx="658.55" cy="310.28" r="0.65" fill="#333"/>
<circle cx="660.05" cy="311.28" r="0.65" fill="#333"/>
<line x1="658.55" y1="318.50" x2="658.55" y2="321.10" stroke="#111" stroke-width="1.0" />
<text x="658.55" y="309.48" font-family='"Liberation Sans", sans-serif' font-weight="normal" font-size="7.40" text-anchor="middle" fill="#2a2a2a" textLength="9.60" lengthAdjust="spacing">***</text>
<rect x="665.51" y="312.51" width="8.35" height="5.99" fill="#ec1c22" stroke="#1a1a1a" stroke-width="0.65"/>
<line x1="669.68" y1="311.31" x2="669.68" y2="312.51" stroke="#222" stroke-width="0.6" />
<line x1="668.28" y1="311.31" x2="671.08" y2="311.31" stroke="#222" stroke-width="0.6" />
<line x1="666.31" y1="312.81" x2="673.05" y2="312.81" stroke="#222" stroke-width="0.8" />
<circle cx="668.18" cy="312.61" r="0.65" fill="#333"/>
<circle cx="669.68" cy="311.91" r="0.65" fill="#333"/>
<circle cx="671.18" cy="312.91" r="0.65" fill="#333"/>
<line x1="669.68" y1="318.50" x2="669.68" y2="321.10" stroke="#111" stroke-width="1.0" />
<text x="669.68" y="311.11" font-family='"Liberation Sans", sans-serif' font-weight="normal" font-size="7.40" text-anchor="middle" fill="#2a2a2a" textLength="9.60" lengthAdjust="spacing">***</text>
<text class="s" transform="translate(582.00,327.80) scale(0.8696,1)" font-family='"Liberation Serif", serif' font-weight="bold" font-size="8.28" text-anchor="middle" fill="#111" >copanlisib</text>
<text class="s" transform="translate(582.00,338.70) scale(0.8696,1)" font-family='"Liberation Serif", serif' font-weight="bold" font-size="8.28" text-anchor="middle" fill="#111" >DHA</text>
<text x="602.90" y="327.50" font-family='"Liberation Sans", sans-serif' font-weight="normal" font-size="5.60" text-anchor="middle" fill="#222" >-</text>
<text x="614.03" y="327.50" font-family='"Liberation Sans", sans-serif' font-weight="normal" font-size="5.60" text-anchor="middle" fill="#222" >+</text>
<text x="625.16" y="327.50" font-family='"Liberation Sans", sans-serif' font-weight="normal" font-size="5.60" text-anchor="middle" fill="#222" >+</text>
<text x="636.29" y="327.50" font-family='"Liberation Sans", sans-serif' font-weight="normal" font-size="5.60" text-anchor="middle" fill="#222" >+</text>
<text x="647.42" y="327.50" font-family='"Liberation Sans", sans-serif' font-weight="normal" font-size="5.60" text-anchor="middle" fill="#222" >+</text>
<text x="658.55" y="327.50" font-family='"Liberation Sans", sans-serif' font-weight="normal" font-size="5.60" text-anchor="middle" fill="#222" >+</text>
<text x="669.68" y="327.50" font-family='"Liberation Sans", sans-serif' font-weight="normal" font-size="5.60" text-anchor="middle" fill="#222" >+</text>
<text x="602.90" y="337.90" font-family='"Liberation Sans", sans-serif' font-weight="normal" font-size="5.60" text-anchor="middle" fill="#222" >-</text>
<text x="614.03" y="337.90" font-family='"Liberation Sans", sans-serif' font-weight="normal" font-size="5.60" text-anchor="middle" fill="#222" >-</text>
<g transform="translate(629.16,335.80) rotate(-45)">
<text class="s" transform="translate(0.00,0.00) scale(0.9434,1)" font-family='"Liberation Serif", serif' font-weight="bold" font-size="5.83" text-anchor="end" fill="#1a1a1a" >1.25 nM</text>
</g>
<g transform="translate(640.66,335.80) rotate(-45)">
<text class="s" transform="translate(0.00,0.00) scale(0.9434,1)" font-family='"Liberation Serif", serif' font-weight="bold" font-size="5.83" text-anchor="end" fill="#1a1a1a" >2.50 nM</text>
</g>
<g transform="translate(652.15,335.80) rotate(-45)">
<text class="s" transform="translate(0.00,0.00) scale(0.9434,1)" font-family='"Liberation Serif", serif' font-weight="bold" font-size="5.83" text-anchor="end" fill="#1a1a1a" >5.00 nM</text>
</g>
<g transform="translate(663.65,335.80) rotate(-45)">
<text class="s" transform="translate(0.00,0.00) scale(0.9434,1)" font-family='"Liberation Serif", serif' font-weight="bold" font-size="5.83" text-anchor="end" fill="#1a1a1a" >10.00 nM</text>
</g>
<g transform="translate(675.15,335.80) rotate(-45)">
<text class="s" transform="translate(0.00,0.00) scale(0.9434,1)" font-family='"Liberation Serif", serif' font-weight="bold" font-size="5.83" text-anchor="end" fill="#1a1a1a" >20.00 nM</text>
</g>
<text class="s" transform="translate(1.00,9.80) scale(0.9091,1)" font-family='"Liberation Serif", serif' font-weight="bold" font-size="13.64" text-anchor="start" fill="#000" >A</text>
<text class="s" transform="translate(13.30,9.80) scale(0.9091,1)" font-family='"Liberation Serif", serif' font-weight="bold" font-size="13.64" text-anchor="start" fill="#000" >i</text>
<text class="s" transform="translate(141.00,10.20) scale(0.9091,1)" font-family='"Liberation Serif", serif' font-weight="bold" font-size="13.64" text-anchor="start" fill="#000" >ii</text>
<text class="s" transform="translate(276.90,10.20) scale(0.9091,1)" font-family='"Liberation Serif", serif' font-weight="bold" font-size="13.64" text-anchor="start" fill="#000" >iii</text>
<text class="s" transform="translate(415.50,9.90) scale(0.9091,1)" font-family='"Liberation Serif", serif' font-weight="bold" font-size="13.64" text-anchor="start" fill="#000" >iv</text>
<text class="s" transform="translate(554.60,8.90) scale(0.9091,1)" font-family='"Liberation Serif", serif' font-weight="bold" font-size="13.64" text-anchor="start" fill="#000" >v</text>
<text class="s" transform="translate(1.20,118.60) scale(0.9091,1)" font-family='"Liberation Serif", serif' font-weight="bold" font-size="13.64" text-anchor="start" fill="#000" >B</text>
<text class="s" transform="translate(13.30,118.60) scale(0.9091,1)" font-family='"Liberation Serif", serif' font-weight="bold" font-size="13.64" text-anchor="start" fill="#000" >i</text>
<text class="s" transform="translate(141.20,120.40) scale(0.9091,1)" font-family='"Liberation Serif", serif' font-weight="bold" font-size="13.64" text-anchor="start" fill="#000" >ii</text>
<text class="s" transform="translate(277.20,120.40) scale(0.9091,1)" font-family='"Liberation Serif", serif' font-weight="bold" font-size="13.64" text-anchor="start" fill="#000" >iii</text>
<text class="s" transform="translate(415.50,120.40) scale(0.9091,1)" font-family='"Liberation Serif", serif' font-weight="bold" font-size="13.64" text-anchor="start" fill="#000" >iv</text>
<text class="s" transform="translate(554.80,119.90) scale(0.9091,1)" font-family='"Liberation Serif", serif' font-weight="bold" font-size="13.64" text-anchor="start" fill="#000" >v</text>
<text class="s" transform="translate(1.20,235.00) scale(0.9091,1)" font-family='"Liberation Serif", serif' font-weight="bold" font-size="13.64" text-anchor="start" fill="#000" >C</text>
<text class="s" transform="translate(13.30,235.00) scale(0.9091,1)" font-family='"Liberation Serif", serif' font-weight="bold" font-size="13.64" text-anchor="start" fill="#000" >i</text>
<text class="s" transform="translate(141.20,234.30) scale(0.9091,1)" font-family='"Liberation Serif", serif' font-weight="bold" font-size="13.64" text-anchor="start" fill="#000" >ii</text>
<text class="s" transform="translate(277.20,234.50) scale(0.9091,1)" font-family='"Liberation Serif", serif' font-weight="bold" font-size="13.64" text-anchor="start" fill="#000" >iii</text>
<text class="s" transform="translate(415.50,234.60) scale(0.9091,1)" font-family='"Liberation Serif", serif' font-weight="bold" font-size="13.64" text-anchor="start" fill="#000" >iv</text>
<text class="s" transform="translate(554.80,234.30) scale(0.9091,1)" font-family='"Liberation Serif", serif' font-weight="bold" font-size="13.64" text-anchor="start" fill="#000" >v</text>
</svg>
</body></html>
